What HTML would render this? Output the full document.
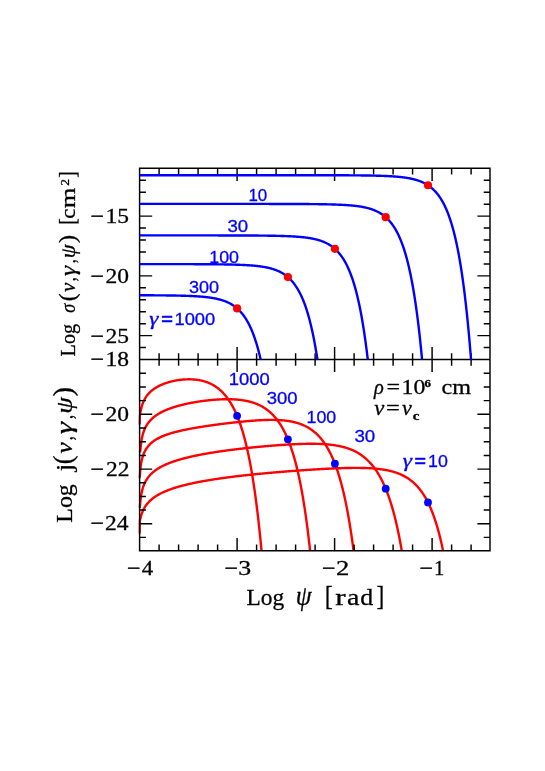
<!DOCTYPE html>
<html><head><meta charset="utf-8"><title>plot</title>
<style>html,body{margin:0;padding:0;background:#fff}body{width:545px;height:771px;position:relative;overflow:hidden;font-family:"Liberation Serif",serif}</style>
</head><body>
<svg width="545" height="771" viewBox="0 0 545 771" style="position:absolute;left:0;top:0">
<defs><clipPath id="ct"><rect x="138.4" y="168.3" width="352.8" height="191.2"/></clipPath>
<clipPath id="cb"><rect x="138.4" y="359.5" width="352.8" height="191.2"/></clipPath></defs>
<rect width="545" height="771" fill="#fff"/>
<g clip-path="url(#cb)" fill="none" stroke="#ff0000" stroke-width="2.4" stroke-linejoin="round">
<path d="M139.6,533.4 L139.75,521.24 L139.9,520.47 L140.1,519.51 L140.35,518.41 L140.6,517.4 L141.1,515.61 L141.6,514.06 L142.1,512.68 L142.6,511.45 L143.1,510.34 L143.6,509.32 L144.6,507.51 L145.6,505.95 L146.6,504.56 L147.6,503.33 L148.6,502.21 L149.1,501.68 L149.6,501.18 L150.1,500.7 L150.6,500.24 L151.1,499.8 L151.6,499.37 L152.1,498.96 L152.6,498.56 L153.1,498.17 L153.6,497.8 L154.1,497.43 L154.6,497.08 L155.1,496.74 L155.6,496.41 L156.1,496.09 L156.6,495.77 L157.1,495.47 L157.6,495.17 L158.1,494.88 L158.6,494.59 L159.1,494.32 L159.6,494.05 L160.1,493.78 L160.6,493.52 L161.1,493.27 L161.6,493.02 L162.1,492.78 L162.6,492.54 L163.1,492.31 L163.6,492.08 L164.1,491.85 L164.6,491.63 L165.1,491.42 L165.6,491.2 L166.1,491 L166.6,490.79 L167.1,490.59 L167.6,490.39 L168.1,490.2 L168.6,490 L169.1,489.82 L169.6,489.63 L170.1,489.45 L170.6,489.27 L171.1,489.09 L171.6,488.92 L172.1,488.74 L172.6,488.57 L173.1,488.41 L173.6,488.24 L174.1,488.08 L174.6,487.92 L175.1,487.76 L175.6,487.6 L176.1,487.45 L176.6,487.3 L177.1,487.15 L177.6,487 L178.1,486.85 L178.6,486.71 L179.1,486.57 L179.6,486.42 L180.1,486.28 L180.6,486.15 L181.1,486.01 L181.6,485.88 L182.1,485.74 L182.6,485.61 L183.1,485.48 L183.6,485.35 L184.1,485.22 L184.6,485.1 L185.1,484.97 L185.6,484.85 L186.1,484.73 L186.6,484.61 L187.1,484.49 L187.6,484.37 L188.1,484.25 L188.6,484.13 L189.1,484.02 L189.6,483.9 L190.1,483.79 L190.6,483.68 L191.1,483.57 L191.6,483.46 L192.1,483.35 L192.6,483.24 L193.1,483.14 L193.6,483.03 L194.1,482.93 L194.6,482.82 L195.1,482.72 L195.6,482.62 L196.1,482.51 L196.6,482.41 L197.1,482.31 L197.6,482.22 L198.1,482.12 L198.6,482.02 L199.1,481.92 L199.6,481.83 L200.1,481.73 L200.6,481.64 L201.1,481.55 L201.6,481.45 L202.1,481.36 L202.6,481.27 L203.1,481.18 L203.6,481.09 L204.1,481 L204.6,480.91 L205.1,480.82 L205.6,480.74 L206.1,480.65 L206.6,480.56 L207.1,480.48 L207.6,480.39 L208.1,480.31 L208.6,480.23 L209.1,480.14 L209.6,480.06 L210.1,479.98 L210.6,479.9 L211.1,479.82 L211.6,479.74 L212.1,479.66 L212.6,479.58 L213.1,479.5 L213.6,479.42 L214.1,479.35 L214.6,479.27 L215.1,479.19 L215.6,479.12 L216.1,479.04 L216.6,478.96 L217.1,478.89 L217.6,478.82 L218.1,478.74 L218.6,478.67 L219.1,478.6 L219.6,478.52 L220.1,478.45 L220.6,478.38 L221.1,478.31 L221.6,478.24 L222.1,478.17 L222.6,478.1 L223.1,478.03 L223.6,477.96 L224.1,477.89 L224.6,477.82 L225.1,477.75 L225.6,477.69 L226.1,477.62 L226.6,477.55 L227.1,477.49 L227.6,477.42 L228.1,477.36 L228.6,477.29 L229.1,477.23 L229.6,477.16 L230.1,477.1 L230.6,477.03 L231.1,476.97 L231.6,476.91 L232.1,476.84 L232.6,476.78 L233.1,476.72 L233.6,476.66 L234.1,476.59 L234.6,476.53 L235.1,476.47 L235.6,476.41 L236.1,476.35 L236.6,476.29 L237.1,476.23 L237.6,476.17 L238.1,476.11 L238.6,476.05 L239.1,476 L239.6,475.94 L240.1,475.88 L240.6,475.82 L241.1,475.76 L241.6,475.71 L242.1,475.65 L242.6,475.59 L243.1,475.54 L243.6,475.48 L244.1,475.42 L244.6,475.37 L245.1,475.31 L245.6,475.26 L246.1,475.2 L246.6,475.15 L247.1,475.09 L247.6,475.04 L248.1,474.99 L248.6,474.93 L249.1,474.88 L249.6,474.83 L250.1,474.77 L250.6,474.72 L251.1,474.67 L251.6,474.62 L252.1,474.56 L252.6,474.51 L253.1,474.46 L253.6,474.41 L254.1,474.36 L254.6,474.31 L255.1,474.26 L255.6,474.21 L256.1,474.16 L256.6,474.11 L257.1,474.06 L257.6,474.01 L258.1,473.96 L258.6,473.91 L259.1,473.86 L259.6,473.81 L260.1,473.76 L260.6,473.71 L261.1,473.66 L261.6,473.62 L262.1,473.57 L262.6,473.52 L263.1,473.47 L263.6,473.43 L264.1,473.38 L264.6,473.33 L265.1,473.29 L265.6,473.24 L266.1,473.19 L266.6,473.15 L267.1,473.1 L267.6,473.06 L268.1,473.01 L268.6,472.96 L269.1,472.92 L269.6,472.87 L270.1,472.83 L270.6,472.78 L271.1,472.74 L271.6,472.7 L272.1,472.65 L272.6,472.61 L273.1,472.56 L273.6,472.52 L274.1,472.48 L274.6,472.43 L275.1,472.39 L275.6,472.35 L276.1,472.3 L276.6,472.26 L277.1,472.22 L277.6,472.18 L278.1,472.13 L278.6,472.09 L279.1,472.05 L279.6,472.01 L280.1,471.97 L280.6,471.93 L281.1,471.88 L281.6,471.84 L282.1,471.8 L282.6,471.76 L283.1,471.72 L283.6,471.68 L284.1,471.64 L284.6,471.6 L285.1,471.56 L285.6,471.52 L286.1,471.48 L286.6,471.44 L287.1,471.4 L287.6,471.36 L288.1,471.32 L288.6,471.28 L289.1,471.25 L289.6,471.21 L290.1,471.17 L290.6,471.13 L291.1,471.09 L291.6,471.05 L292.1,471.02 L292.6,470.98 L293.1,470.94 L293.6,470.9 L294.1,470.87 L294.6,470.83 L295.1,470.79 L295.6,470.76 L296.1,470.72 L296.6,470.68 L297.1,470.65 L297.6,470.61 L298.1,470.57 L298.6,470.54 L299.1,470.5 L299.6,470.47 L300.1,470.43 L300.6,470.4 L301.1,470.36 L301.6,470.33 L302.1,470.29 L302.6,470.26 L303.1,470.22 L303.6,470.19 L304.1,470.15 L304.6,470.12 L305.1,470.09 L305.6,470.05 L306.1,470.02 L306.6,469.98 L307.1,469.95 L307.6,469.92 L308.1,469.89 L308.6,469.85 L309.1,469.82 L309.6,469.79 L310.1,469.76 L310.6,469.72 L311.1,469.69 L311.6,469.66 L312.1,469.63 L312.6,469.6 L313.1,469.57 L313.6,469.53 L314.1,469.5 L314.6,469.47 L315.1,469.44 L315.6,469.41 L316.1,469.38 L316.6,469.35 L317.1,469.32 L317.6,469.29 L318.1,469.26 L318.6,469.24 L319.1,469.21 L319.6,469.18 L320.1,469.15 L320.6,469.12 L321.1,469.09 L321.6,469.06 L322.1,469.04 L322.6,469.01 L323.1,468.98 L323.6,468.96 L324.1,468.93 L324.6,468.9 L325.1,468.88 L325.6,468.85 L326.1,468.82 L326.6,468.8 L327.1,468.77 L327.6,468.75 L328.1,468.72 L328.6,468.7 L329.1,468.67 L329.6,468.65 L330.1,468.63 L330.6,468.6 L331.1,468.58 L331.6,468.56 L332.1,468.53 L332.6,468.51 L333.1,468.49 L333.6,468.47 L334.1,468.44 L334.6,468.42 L335.1,468.4 L335.6,468.38 L336.1,468.36 L336.6,468.34 L337.1,468.32 L337.6,468.3 L338.1,468.28 L338.6,468.26 L339.1,468.25 L339.6,468.23 L340.1,468.21 L340.6,468.19 L341.1,468.18 L341.6,468.16 L342.1,468.14 L342.6,468.13 L343.1,468.11 L343.6,468.1 L344.1,468.09 L344.6,468.07 L345.1,468.06 L345.6,468.05 L346.1,468.03 L346.6,468.02 L347.1,468.01 L347.6,468 L348.1,467.99 L348.6,467.98 L349.1,467.97 L349.6,467.96 L350.1,467.95 L350.6,467.94 L351.1,467.94 L351.6,467.93 L352.1,467.92 L352.6,467.92 L353.1,467.91 L353.6,467.91 L354.1,467.91 L354.6,467.9 L355.1,467.9 L355.6,467.9 L356.1,467.9 L356.6,467.9 L357.1,467.9 L357.6,467.9 L358.1,467.9 L358.6,467.91 L359.1,467.91 L359.6,467.92 L360.1,467.92 L360.6,467.93 L361.1,467.94 L361.6,467.94 L362.1,467.95 L362.6,467.96 L363.1,467.98 L363.6,467.99 L364.1,468 L364.6,468.02 L365.1,468.03 L365.6,468.05 L366.1,468.06 L366.6,468.08 L367.1,468.1 L367.6,468.12 L368.1,468.15 L368.6,468.17 L369.1,468.19 L369.6,468.22 L370.1,468.25 L370.6,468.28 L371.1,468.31 L371.6,468.34 L372.1,468.37 L372.6,468.41 L373.1,468.44 L373.6,468.48 L374.1,468.52 L374.6,468.56 L375.1,468.6 L375.6,468.65 L376.1,468.69 L376.6,468.74 L377.1,468.79 L377.6,468.84 L378.1,468.9 L378.6,468.95 L379.1,469.01 L379.6,469.07 L380.1,469.13 L380.6,469.2 L381.1,469.26 L381.6,469.33 L382.1,469.4 L382.6,469.48 L383.1,469.55 L383.6,469.63 L384.1,469.71 L384.6,469.8 L385.1,469.88 L385.6,469.97 L386.1,470.07 L386.6,470.16 L387.1,470.26 L387.6,470.36 L388.1,470.46 L388.6,470.57 L389.1,470.68 L389.6,470.8 L390.1,470.92 L390.6,471.04 L391.1,471.16 L391.6,471.29 L392.1,471.42 L392.6,471.56 L393.1,471.7 L393.6,471.85 L394.1,472 L394.6,472.15 L395.1,472.31 L395.6,472.47 L396.1,472.64 L396.6,472.81 L397.1,472.99 L397.6,473.17 L398.1,473.36 L398.6,473.55 L399.1,473.75 L399.6,473.95 L400.1,474.16 L400.6,474.38 L401.1,474.6 L401.6,474.83 L402.1,475.06 L402.6,475.31 L403.1,475.55 L403.6,475.81 L404.1,476.07 L404.6,476.34 L405.1,476.62 L405.6,476.9 L406.1,477.19 L406.6,477.5 L407.1,477.81 L407.6,478.12 L408.1,478.45 L408.6,478.79 L409.1,479.13 L409.6,479.49 L410.1,479.85 L410.6,480.23 L411.1,480.61 L411.6,481.01 L412.1,481.41 L412.6,481.83 L413.1,482.26 L413.6,482.7 L414.1,483.16 L414.6,483.63 L415.1,484.11 L415.6,484.6 L416.1,485.11 L416.6,485.63 L417.1,486.16 L417.6,486.71 L418.1,487.28 L418.6,487.86 L419.1,488.46 L419.6,489.08 L420.1,489.71 L420.6,490.36 L421.1,491.03 L421.6,491.72 L422.1,492.42 L422.6,493.15 L423.1,493.9 L423.6,494.67 L424.1,495.46 L424.6,496.27 L425.1,497.11 L425.6,497.97 L426.1,498.85 L426.6,499.77 L427.1,500.7 L427.6,501.67 L428.1,502.66 L428.6,503.68 L429.1,504.73 L429.6,505.81 L430.1,506.92 L430.6,508.07 L431.1,509.25 L431.6,510.46 L432.1,511.71 L432.6,512.99 L433.1,514.32 L433.6,515.68 L434.1,517.08 L434.6,518.53 L435.1,520.01 L435.6,521.54 L436.1,523.12 L436.6,524.75 L437.1,526.42 L437.6,528.15 L438.1,529.92 L438.6,531.75 L439.1,533.64 L439.6,535.58 L440.1,537.58 L440.6,539.65 L441.1,541.77 L441.6,543.96 L442.1,546.22 L442.6,548.55 L443.1,550.95 L443.6,553.43 L444.1,555.98 L444.6,558.61 L445.1,561.33 L445.6,564.12 L446.1,567.01"/>
<path d="M139.6,507.8 L140.1,504.25 L140.35,501.42 L140.6,499.13 L141.1,495.57 L141.6,492.84 L142.1,490.62 L142.6,488.75 L143.1,487.14 L143.6,485.72 L144.6,483.31 L145.6,481.31 L146.6,479.6 L147.6,478.1 L148.6,476.78 L149.1,476.17 L149.6,475.58 L150.1,475.03 L150.6,474.5 L151.1,474 L151.6,473.51 L152.1,473.05 L152.6,472.6 L153.1,472.17 L153.6,471.75 L154.1,471.35 L154.6,470.96 L155.1,470.58 L155.6,470.22 L156.1,469.86 L156.6,469.52 L157.1,469.18 L157.6,468.86 L158.1,468.54 L158.6,468.24 L159.1,467.94 L159.6,467.64 L160.1,467.36 L160.6,467.08 L161.1,466.81 L161.6,466.54 L162.1,466.28 L162.6,466.03 L163.1,465.78 L163.6,465.54 L164.1,465.3 L164.6,465.06 L165.1,464.83 L165.6,464.61 L166.1,464.39 L166.6,464.17 L167.1,463.96 L167.6,463.75 L168.1,463.54 L168.6,463.34 L169.1,463.14 L169.6,462.95 L170.1,462.75 L170.6,462.56 L171.1,462.38 L171.6,462.2 L172.1,462.02 L172.6,461.84 L173.1,461.66 L173.6,461.49 L174.1,461.32 L174.6,461.15 L175.1,460.99 L175.6,460.82 L176.1,460.66 L176.6,460.51 L177.1,460.35 L177.6,460.2 L178.1,460.04 L178.6,459.89 L179.1,459.74 L179.6,459.6 L180.1,459.45 L180.6,459.31 L181.1,459.17 L181.6,459.03 L182.1,458.89 L182.6,458.75 L183.1,458.62 L183.6,458.49 L184.1,458.35 L184.6,458.22 L185.1,458.09 L185.6,457.97 L186.1,457.84 L186.6,457.72 L187.1,457.59 L187.6,457.47 L188.1,457.35 L188.6,457.23 L189.1,457.11 L189.6,456.99 L190.1,456.88 L190.6,456.76 L191.1,456.65 L191.6,456.53 L192.1,456.42 L192.6,456.31 L193.1,456.2 L193.6,456.09 L194.1,455.98 L194.6,455.88 L195.1,455.77 L195.6,455.67 L196.1,455.56 L196.6,455.46 L197.1,455.36 L197.6,455.26 L198.1,455.16 L198.6,455.06 L199.1,454.96 L199.6,454.86 L200.1,454.76 L200.6,454.67 L201.1,454.57 L201.6,454.48 L202.1,454.38 L202.6,454.29 L203.1,454.2 L203.6,454.1 L204.1,454.01 L204.6,453.92 L205.1,453.83 L205.6,453.74 L206.1,453.65 L206.6,453.57 L207.1,453.48 L207.6,453.39 L208.1,453.31 L208.6,453.22 L209.1,453.14 L209.6,453.05 L210.1,452.97 L210.6,452.89 L211.1,452.8 L211.6,452.72 L212.1,452.64 L212.6,452.56 L213.1,452.48 L213.6,452.4 L214.1,452.32 L214.6,452.24 L215.1,452.17 L215.6,452.09 L216.1,452.01 L216.6,451.93 L217.1,451.86 L217.6,451.78 L218.1,451.71 L218.6,451.63 L219.1,451.56 L219.6,451.49 L220.1,451.41 L220.6,451.34 L221.1,451.27 L221.6,451.2 L222.1,451.12 L222.6,451.05 L223.1,450.98 L223.6,450.91 L224.1,450.84 L224.6,450.77 L225.1,450.7 L225.6,450.64 L226.1,450.57 L226.6,450.5 L227.1,450.43 L227.6,450.37 L228.1,450.3 L228.6,450.23 L229.1,450.17 L229.6,450.1 L230.1,450.04 L230.6,449.97 L231.1,449.91 L231.6,449.85 L232.1,449.78 L232.6,449.72 L233.1,449.66 L233.6,449.59 L234.1,449.53 L234.6,449.47 L235.1,449.41 L235.6,449.35 L236.1,449.29 L236.6,449.23 L237.1,449.17 L237.6,449.11 L238.1,449.05 L238.6,448.99 L239.1,448.93 L239.6,448.87 L240.1,448.81 L240.6,448.75 L241.1,448.7 L241.6,448.64 L242.1,448.58 L242.6,448.52 L243.1,448.47 L243.6,448.41 L244.1,448.36 L244.6,448.3 L245.1,448.24 L245.6,448.19 L246.1,448.14 L246.6,448.08 L247.1,448.03 L247.6,447.97 L248.1,447.92 L248.6,447.87 L249.1,447.81 L249.6,447.76 L250.1,447.71 L250.6,447.66 L251.1,447.6 L251.6,447.55 L252.1,447.5 L252.6,447.45 L253.1,447.4 L253.6,447.35 L254.1,447.3 L254.6,447.25 L255.1,447.2 L255.6,447.15 L256.1,447.1 L256.6,447.05 L257.1,447 L257.6,446.96 L258.1,446.91 L258.6,446.86 L259.1,446.81 L259.6,446.76 L260.1,446.72 L260.6,446.67 L261.1,446.62 L261.6,446.58 L262.1,446.53 L262.6,446.49 L263.1,446.44 L263.6,446.4 L264.1,446.35 L264.6,446.31 L265.1,446.26 L265.6,446.22 L266.1,446.17 L266.6,446.13 L267.1,446.09 L267.6,446.05 L268.1,446 L268.6,445.96 L269.1,445.92 L269.6,445.88 L270.1,445.83 L270.6,445.79 L271.1,445.75 L271.6,445.71 L272.1,445.67 L272.6,445.63 L273.1,445.59 L273.6,445.55 L274.1,445.51 L274.6,445.47 L275.1,445.44 L275.6,445.4 L276.1,445.36 L276.6,445.32 L277.1,445.28 L277.6,445.25 L278.1,445.21 L278.6,445.17 L279.1,445.14 L279.6,445.1 L280.1,445.07 L280.6,445.03 L281.1,445 L281.6,444.96 L282.1,444.93 L282.6,444.9 L283.1,444.86 L283.6,444.83 L284.1,444.8 L284.6,444.76 L285.1,444.73 L285.6,444.7 L286.1,444.67 L286.6,444.64 L287.1,444.61 L287.6,444.58 L288.1,444.55 L288.6,444.52 L289.1,444.49 L289.6,444.46 L290.1,444.44 L290.6,444.41 L291.1,444.38 L291.6,444.36 L292.1,444.33 L292.6,444.3 L293.1,444.28 L293.6,444.25 L294.1,444.23 L294.6,444.21 L295.1,444.18 L295.6,444.16 L296.1,444.14 L296.6,444.12 L297.1,444.1 L297.6,444.08 L298.1,444.06 L298.6,444.04 L299.1,444.02 L299.6,444 L300.1,443.98 L300.6,443.96 L301.1,443.95 L301.6,443.93 L302.1,443.92 L302.6,443.9 L303.1,443.89 L303.6,443.88 L304.1,443.86 L304.6,443.85 L305.1,443.84 L305.6,443.83 L306.1,443.82 L306.6,443.81 L307.1,443.81 L307.6,443.8 L308.1,443.79 L308.6,443.79 L309.1,443.78 L309.6,443.78 L310.1,443.78 L310.6,443.77 L311.1,443.77 L311.6,443.77 L312.1,443.77 L312.6,443.78 L313.1,443.78 L313.6,443.78 L314.1,443.79 L314.6,443.79 L315.1,443.8 L315.6,443.81 L316.1,443.82 L316.6,443.83 L317.1,443.84 L317.6,443.85 L318.1,443.87 L318.6,443.88 L319.1,443.9 L319.6,443.92 L320.1,443.94 L320.6,443.96 L321.1,443.98 L321.6,444 L322.1,444.03 L322.6,444.05 L323.1,444.08 L323.6,444.11 L324.1,444.14 L324.6,444.17 L325.1,444.21 L325.6,444.25 L326.1,444.28 L326.6,444.32 L327.1,444.36 L327.6,444.41 L328.1,444.45 L328.6,444.5 L329.1,444.55 L329.6,444.6 L330.1,444.65 L330.6,444.71 L331.1,444.77 L331.6,444.83 L332.1,444.89 L332.6,444.95 L333.1,445.02 L333.6,445.09 L334.1,445.16 L334.6,445.24 L335.1,445.31 L335.6,445.39 L336.1,445.48 L336.6,445.56 L337.1,445.65 L337.6,445.74 L338.1,445.83 L338.6,445.93 L339.1,446.03 L339.6,446.13 L340.1,446.24 L340.6,446.35 L341.1,446.46 L341.6,446.58 L342.1,446.7 L342.6,446.82 L343.1,446.95 L343.6,447.08 L344.1,447.22 L344.6,447.36 L345.1,447.5 L345.6,447.65 L346.1,447.8 L346.6,447.96 L347.1,448.12 L347.6,448.28 L348.1,448.45 L348.6,448.63 L349.1,448.81 L349.6,448.99 L350.1,449.18 L350.6,449.38 L351.1,449.58 L351.6,449.79 L352.1,450 L352.6,450.22 L353.1,450.44 L353.6,450.67 L354.1,450.91 L354.6,451.15 L355.1,451.4 L355.6,451.65 L356.1,451.91 L356.6,452.18 L357.1,452.46 L357.6,452.74 L358.1,453.03 L358.6,453.33 L359.1,453.64 L359.6,453.95 L360.1,454.28 L360.6,454.61 L361.1,454.95 L361.6,455.3 L362.1,455.65 L362.6,456.02 L363.1,456.4 L363.6,456.78 L364.1,457.18 L364.6,457.59 L365.1,458 L365.6,458.43 L366.1,458.87 L366.6,459.32 L367.1,459.78 L367.6,460.25 L368.1,460.74 L368.6,461.24 L369.1,461.75 L369.6,462.27 L370.1,462.81 L370.6,463.36 L371.1,463.92 L371.6,464.5 L372.1,465.09 L372.6,465.7 L373.1,466.33 L373.6,466.97 L374.1,467.63 L374.6,468.3 L375.1,468.99 L375.6,469.7 L376.1,470.43 L376.6,471.17 L377.1,471.94 L377.6,472.72 L378.1,473.53 L378.6,474.36 L379.1,475.2 L379.6,476.07 L380.1,476.97 L380.6,477.88 L381.1,478.82 L381.6,479.78 L382.1,480.77 L382.6,481.79 L383.1,482.83 L383.6,483.9 L384.1,485 L384.6,486.12 L385.1,487.28 L385.6,488.47 L386.1,489.69 L386.6,490.94 L387.1,492.22 L387.6,493.54 L388.1,494.9 L388.6,496.29 L389.1,497.72 L389.6,499.19 L390.1,500.7 L390.6,502.25 L391.1,503.84 L391.6,505.47 L392.1,507.16 L392.6,508.88 L393.1,510.66 L393.6,512.49 L394.1,514.36 L394.6,516.29 L395.1,518.27 L395.6,520.31 L396.1,522.41 L396.6,524.57 L397.1,526.78 L397.6,529.07 L398.1,531.41 L398.6,533.83 L399.1,536.31 L399.6,538.87 L400.1,541.5 L400.6,544.21 L401.1,546.99 L401.6,549.86 L402.1,552.82 L402.6,555.86 L403.1,558.99 L403.6,562.21 L404.1,565.53 L404.6,568.95"/>
<path d="M139.6,477.8 L139.9,474.87 L140.1,472.05 L140.35,469.28 L140.6,467.04 L141.1,463.56 L141.6,460.9 L142.1,458.75 L142.6,456.95 L143.1,455.4 L143.6,454.04 L144.6,451.75 L145.6,449.86 L146.6,448.26 L147.6,446.88 L148.6,445.66 L149.1,445.1 L149.6,444.57 L150.1,444.07 L150.6,443.59 L151.1,443.14 L151.6,442.7 L152.1,442.29 L152.6,441.89 L153.1,441.5 L153.6,441.14 L154.1,440.78 L154.6,440.44 L155.1,440.11 L155.6,439.79 L156.1,439.49 L156.6,439.19 L157.1,438.9 L157.6,438.62 L158.1,438.35 L158.6,438.09 L159.1,437.83 L159.6,437.58 L160.1,437.34 L160.6,437.11 L161.1,436.88 L161.6,436.65 L162.1,436.44 L162.6,436.22 L163.1,436.02 L163.6,435.81 L164.1,435.61 L164.6,435.42 L165.1,435.23 L165.6,435.04 L166.1,434.86 L166.6,434.68 L167.1,434.51 L167.6,434.34 L168.1,434.17 L168.6,434 L169.1,433.84 L169.6,433.68 L170.1,433.52 L170.6,433.37 L171.1,433.22 L171.6,433.07 L172.1,432.92 L172.6,432.78 L173.1,432.64 L173.6,432.5 L174.1,432.36 L174.6,432.23 L175.1,432.1 L175.6,431.96 L176.1,431.83 L176.6,431.71 L177.1,431.58 L177.6,431.46 L178.1,431.34 L178.6,431.21 L179.1,431.1 L179.6,430.98 L180.1,430.86 L180.6,430.75 L181.1,430.63 L181.6,430.52 L182.1,430.41 L182.6,430.3 L183.1,430.19 L183.6,430.08 L184.1,429.98 L184.6,429.87 L185.1,429.77 L185.6,429.67 L186.1,429.57 L186.6,429.47 L187.1,429.37 L187.6,429.27 L188.1,429.17 L188.6,429.07 L189.1,428.98 L189.6,428.88 L190.1,428.79 L190.6,428.69 L191.1,428.6 L191.6,428.51 L192.1,428.42 L192.6,428.33 L193.1,428.24 L193.6,428.15 L194.1,428.06 L194.6,427.97 L195.1,427.89 L195.6,427.8 L196.1,427.72 L196.6,427.63 L197.1,427.55 L197.6,427.46 L198.1,427.38 L198.6,427.3 L199.1,427.22 L199.6,427.14 L200.1,427.05 L200.6,426.97 L201.1,426.89 L201.6,426.82 L202.1,426.74 L202.6,426.66 L203.1,426.58 L203.6,426.5 L204.1,426.43 L204.6,426.35 L205.1,426.27 L205.6,426.2 L206.1,426.12 L206.6,426.05 L207.1,425.97 L207.6,425.9 L208.1,425.83 L208.6,425.75 L209.1,425.68 L209.6,425.61 L210.1,425.54 L210.6,425.47 L211.1,425.4 L211.6,425.33 L212.1,425.26 L212.6,425.19 L213.1,425.12 L213.6,425.05 L214.1,424.98 L214.6,424.91 L215.1,424.84 L215.6,424.77 L216.1,424.71 L216.6,424.64 L217.1,424.57 L217.6,424.51 L218.1,424.44 L218.6,424.37 L219.1,424.31 L219.6,424.24 L220.1,424.18 L220.6,424.11 L221.1,424.05 L221.6,423.99 L222.1,423.92 L222.6,423.86 L223.1,423.8 L223.6,423.73 L224.1,423.67 L224.6,423.61 L225.1,423.55 L225.6,423.49 L226.1,423.42 L226.6,423.36 L227.1,423.3 L227.6,423.24 L228.1,423.18 L228.6,423.12 L229.1,423.06 L229.6,423.01 L230.1,422.95 L230.6,422.89 L231.1,422.83 L231.6,422.77 L232.1,422.72 L232.6,422.66 L233.1,422.6 L233.6,422.55 L234.1,422.49 L234.6,422.44 L235.1,422.38 L235.6,422.33 L236.1,422.27 L236.6,422.22 L237.1,422.16 L237.6,422.11 L238.1,422.06 L238.6,422.01 L239.1,421.95 L239.6,421.9 L240.1,421.85 L240.6,421.8 L241.1,421.75 L241.6,421.7 L242.1,421.65 L242.6,421.6 L243.1,421.55 L243.6,421.51 L244.1,421.46 L244.6,421.41 L245.1,421.36 L245.6,421.32 L246.1,421.27 L246.6,421.23 L247.1,421.18 L247.6,421.14 L248.1,421.09 L248.6,421.05 L249.1,421.01 L249.6,420.97 L250.1,420.92 L250.6,420.88 L251.1,420.84 L251.6,420.8 L252.1,420.76 L252.6,420.73 L253.1,420.69 L253.6,420.65 L254.1,420.61 L254.6,420.58 L255.1,420.54 L255.6,420.51 L256.1,420.48 L256.6,420.44 L257.1,420.41 L257.6,420.38 L258.1,420.35 L258.6,420.32 L259.1,420.29 L259.6,420.26 L260.1,420.24 L260.6,420.21 L261.1,420.18 L261.6,420.16 L262.1,420.14 L262.6,420.11 L263.1,420.09 L263.6,420.07 L264.1,420.05 L264.6,420.03 L265.1,420.02 L265.6,420 L266.1,419.99 L266.6,419.97 L267.1,419.96 L267.6,419.95 L268.1,419.94 L268.6,419.93 L269.1,419.92 L269.6,419.91 L270.1,419.91 L270.6,419.91 L271.1,419.9 L271.6,419.9 L272.1,419.9 L272.6,419.91 L273.1,419.91 L273.6,419.92 L274.1,419.92 L274.6,419.93 L275.1,419.94 L275.6,419.95 L276.1,419.97 L276.6,419.98 L277.1,420 L277.6,420.02 L278.1,420.04 L278.6,420.07 L279.1,420.09 L279.6,420.12 L280.1,420.15 L280.6,420.18 L281.1,420.22 L281.6,420.26 L282.1,420.29 L282.6,420.34 L283.1,420.38 L283.6,420.43 L284.1,420.48 L284.6,420.53 L285.1,420.58 L285.6,420.64 L286.1,420.7 L286.6,420.76 L287.1,420.83 L287.6,420.9 L288.1,420.97 L288.6,421.05 L289.1,421.13 L289.6,421.21 L290.1,421.3 L290.6,421.38 L291.1,421.48 L291.6,421.57 L292.1,421.68 L292.6,421.78 L293.1,421.89 L293.6,422 L294.1,422.12 L294.6,422.24 L295.1,422.36 L295.6,422.49 L296.1,422.63 L296.6,422.77 L297.1,422.91 L297.6,423.06 L298.1,423.22 L298.6,423.37 L299.1,423.54 L299.6,423.71 L300.1,423.88 L300.6,424.07 L301.1,424.25 L301.6,424.45 L302.1,424.65 L302.6,424.85 L303.1,425.06 L303.6,425.28 L304.1,425.51 L304.6,425.74 L305.1,425.98 L305.6,426.23 L306.1,426.48 L306.6,426.74 L307.1,427.01 L307.6,427.29 L308.1,427.58 L308.6,427.87 L309.1,428.18 L309.6,428.49 L310.1,428.81 L310.6,429.14 L311.1,429.48 L311.6,429.83 L312.1,430.19 L312.6,430.56 L313.1,430.95 L313.6,431.34 L314.1,431.74 L314.6,432.16 L315.1,432.58 L315.6,433.02 L316.1,433.47 L316.6,433.94 L317.1,434.42 L317.6,434.91 L318.1,435.41 L318.6,435.93 L319.1,436.46 L319.6,437.01 L320.1,437.57 L320.6,438.15 L321.1,438.75 L321.6,439.36 L322.1,439.99 L322.6,440.63 L323.1,441.3 L323.6,441.98 L324.1,442.68 L324.6,443.4 L325.1,444.15 L325.6,444.91 L326.1,445.69 L326.6,446.5 L327.1,447.32 L327.6,448.17 L328.1,449.05 L328.6,449.95 L329.1,450.87 L329.6,451.82 L330.1,452.8 L330.6,453.8 L331.1,454.83 L331.6,455.9 L332.1,456.99 L332.6,458.11 L333.1,459.26 L333.6,460.45 L334.1,461.67 L334.6,462.92 L335.1,464.21 L335.6,465.54 L336.1,466.9 L336.6,468.31 L337.1,469.75 L337.6,471.24 L338.1,472.76 L338.6,474.34 L339.1,475.95 L339.6,477.62 L340.1,479.33 L340.6,481.09 L341.1,482.91 L341.6,484.77 L342.1,486.7 L342.6,488.67 L343.1,490.71 L343.6,492.81 L344.1,494.96 L344.6,497.19 L345.1,499.47 L345.6,501.83 L346.1,504.26 L346.6,506.76 L347.1,509.33 L347.6,511.98 L348.1,514.72 L348.6,517.53 L349.1,520.43 L349.6,523.42 L350.1,526.5 L350.6,529.67 L351.1,532.95 L351.6,536.32 L352.1,539.79 L352.6,543.38 L353.1,547.07 L353.6,550.88 L354.1,554.81 L354.6,558.86 L355.1,563.04 L355.6,567.34"/>
<path d="M139.6,452.1 L140.35,450.72 L140.6,447.57 L141.1,443.03 L141.6,439.76 L142.1,437.2 L142.6,435.11 L143.1,433.33 L143.6,431.78 L144.6,429.2 L145.6,427.09 L146.6,425.3 L147.6,423.75 L148.6,422.39 L149.1,421.76 L149.6,421.17 L150.1,420.6 L150.6,420.07 L151.1,419.55 L151.6,419.06 L152.1,418.59 L152.6,418.14 L153.1,417.7 L153.6,417.29 L154.1,416.88 L154.6,416.49 L155.1,416.12 L155.6,415.75 L156.1,415.4 L156.6,415.06 L157.1,414.73 L157.6,414.4 L158.1,414.09 L158.6,413.79 L159.1,413.49 L159.6,413.2 L160.1,412.92 L160.6,412.65 L161.1,412.38 L161.6,412.12 L162.1,411.87 L162.6,411.62 L163.1,411.38 L163.6,411.14 L164.1,410.91 L164.6,410.68 L165.1,410.46 L165.6,410.24 L166.1,410.02 L166.6,409.82 L167.1,409.61 L167.6,409.41 L168.1,409.21 L168.6,409.02 L169.1,408.83 L169.6,408.64 L170.1,408.46 L170.6,408.28 L171.1,408.1 L171.6,407.93 L172.1,407.76 L172.6,407.59 L173.1,407.42 L173.6,407.26 L174.1,407.1 L174.6,406.95 L175.1,406.79 L175.6,406.64 L176.1,406.49 L176.6,406.34 L177.1,406.2 L177.6,406.05 L178.1,405.91 L178.6,405.77 L179.1,405.64 L179.6,405.5 L180.1,405.37 L180.6,405.24 L181.1,405.11 L181.6,404.99 L182.1,404.86 L182.6,404.74 L183.1,404.62 L183.6,404.5 L184.1,404.38 L184.6,404.26 L185.1,404.15 L185.6,404.03 L186.1,403.92 L186.6,403.81 L187.1,403.7 L187.6,403.6 L188.1,403.49 L188.6,403.39 L189.1,403.29 L189.6,403.18 L190.1,403.09 L190.6,402.99 L191.1,402.89 L191.6,402.79 L192.1,402.7 L192.6,402.61 L193.1,402.52 L193.6,402.43 L194.1,402.34 L194.6,402.25 L195.1,402.16 L195.6,402.08 L196.1,401.99 L196.6,401.91 L197.1,401.83 L197.6,401.75 L198.1,401.67 L198.6,401.59 L199.1,401.52 L199.6,401.44 L200.1,401.37 L200.6,401.3 L201.1,401.22 L201.6,401.15 L202.1,401.08 L202.6,401.02 L203.1,400.95 L203.6,400.88 L204.1,400.82 L204.6,400.76 L205.1,400.69 L205.6,400.63 L206.1,400.57 L206.6,400.51 L207.1,400.46 L207.6,400.4 L208.1,400.34 L208.6,400.29 L209.1,400.24 L209.6,400.19 L210.1,400.14 L210.6,400.09 L211.1,400.04 L211.6,399.99 L212.1,399.95 L212.6,399.9 L213.1,399.86 L213.6,399.82 L214.1,399.78 L214.6,399.74 L215.1,399.7 L215.6,399.66 L216.1,399.63 L216.6,399.6 L217.1,399.56 L217.6,399.53 L218.1,399.5 L218.6,399.47 L219.1,399.45 L219.6,399.42 L220.1,399.4 L220.6,399.37 L221.1,399.35 L221.6,399.33 L222.1,399.32 L222.6,399.3 L223.1,399.28 L223.6,399.27 L224.1,399.26 L224.6,399.25 L225.1,399.24 L225.6,399.23 L226.1,399.23 L226.6,399.22 L227.1,399.22 L227.6,399.22 L228.1,399.22 L228.6,399.23 L229.1,399.23 L229.6,399.24 L230.1,399.25 L230.6,399.26 L231.1,399.28 L231.6,399.29 L232.1,399.31 L232.6,399.33 L233.1,399.35 L233.6,399.37 L234.1,399.4 L234.6,399.43 L235.1,399.46 L235.6,399.49 L236.1,399.53 L236.6,399.57 L237.1,399.61 L237.6,399.65 L238.1,399.7 L238.6,399.75 L239.1,399.8 L239.6,399.85 L240.1,399.91 L240.6,399.97 L241.1,400.04 L241.6,400.1 L242.1,400.17 L242.6,400.24 L243.1,400.32 L243.6,400.4 L244.1,400.48 L244.6,400.57 L245.1,400.66 L245.6,400.75 L246.1,400.85 L246.6,400.95 L247.1,401.05 L247.6,401.16 L248.1,401.27 L248.6,401.39 L249.1,401.51 L249.6,401.64 L250.1,401.77 L250.6,401.9 L251.1,402.04 L251.6,402.19 L252.1,402.33 L252.6,402.49 L253.1,402.65 L253.6,402.81 L254.1,402.98 L254.6,403.16 L255.1,403.34 L255.6,403.53 L256.1,403.72 L256.6,403.92 L257.1,404.12 L257.6,404.33 L258.1,404.55 L258.6,404.78 L259.1,405.01 L259.6,405.25 L260.1,405.49 L260.6,405.74 L261.1,406 L261.6,406.27 L262.1,406.55 L262.6,406.83 L263.1,407.13 L263.6,407.43 L264.1,407.74 L264.6,408.06 L265.1,408.39 L265.6,408.73 L266.1,409.08 L266.6,409.43 L267.1,409.8 L267.6,410.18 L268.1,410.57 L268.6,410.97 L269.1,411.39 L269.6,411.81 L270.1,412.25 L270.6,412.7 L271.1,413.16 L271.6,413.63 L272.1,414.12 L272.6,414.62 L273.1,415.14 L273.6,415.67 L274.1,416.22 L274.6,416.78 L275.1,417.36 L275.6,417.95 L276.1,418.56 L276.6,419.19 L277.1,419.84 L277.6,420.5 L278.1,421.19 L278.6,421.89 L279.1,422.61 L279.6,423.36 L280.1,424.12 L280.6,424.91 L281.1,425.72 L281.6,426.55 L282.1,427.4 L282.6,428.28 L283.1,429.19 L283.6,430.12 L284.1,431.08 L284.6,432.06 L285.1,433.08 L285.6,434.12 L286.1,435.19 L286.6,436.3 L287.1,437.43 L287.6,438.6 L288.1,439.81 L288.6,441.04 L289.1,442.32 L289.6,443.63 L290.1,444.98 L290.6,446.37 L291.1,447.8 L291.6,449.27 L292.1,450.79 L292.6,452.35 L293.1,453.96 L293.6,455.62 L294.1,457.32 L294.6,459.08 L295.1,460.89 L295.6,462.75 L296.1,464.67 L296.6,466.65 L297.1,468.68 L297.6,470.78 L298.1,472.94 L298.6,475.17 L299.1,477.47 L299.6,479.83 L300.1,482.27 L300.6,484.79 L301.1,487.38 L301.6,490.05 L302.1,492.81 L302.6,495.65 L303.1,498.57 L303.6,501.59 L304.1,504.71 L304.6,507.92 L305.1,511.23 L305.6,514.65 L306.1,518.17 L306.6,521.81 L307.1,525.56 L307.6,529.43 L308.1,533.42 L308.6,537.54 L309.1,541.8 L309.6,546.19 L310.1,550.72 L310.6,555.39 L311.1,560.22 L311.6,565.2 L312.1,570.34"/>
<path d="M139.6,424.4 L139.75,416.89 L139.9,415.68 L140.1,414.24 L140.35,412.66 L140.6,411.27 L141.1,408.91 L141.6,406.94 L142.1,405.26 L142.6,403.8 L143.1,402.5 L143.6,401.33 L144.6,399.31 L145.6,397.6 L146.6,396.11 L147.6,394.8 L148.6,393.63 L149.1,393.1 L149.6,392.58 L150.1,392.09 L150.6,391.63 L151.1,391.18 L151.6,390.75 L152.1,390.34 L152.6,389.94 L153.1,389.56 L153.6,389.2 L154.1,388.84 L154.6,388.5 L155.1,388.17 L155.6,387.86 L156.1,387.55 L156.6,387.25 L157.1,386.97 L157.6,386.69 L158.1,386.42 L158.6,386.15 L159.1,385.9 L159.6,385.65 L160.1,385.41 L160.6,385.18 L161.1,384.96 L161.6,384.74 L162.1,384.52 L162.6,384.32 L163.1,384.11 L163.6,383.92 L164.1,383.73 L164.6,383.54 L165.1,383.36 L165.6,383.19 L166.1,383.02 L166.6,382.85 L167.1,382.69 L167.6,382.53 L168.1,382.38 L168.6,382.23 L169.1,382.09 L169.6,381.95 L170.1,381.81 L170.6,381.68 L171.1,381.55 L171.6,381.43 L172.1,381.31 L172.6,381.19 L173.1,381.08 L173.6,380.97 L174.1,380.87 L174.6,380.76 L175.1,380.67 L175.6,380.57 L176.1,380.48 L176.6,380.39 L177.1,380.31 L177.6,380.23 L178.1,380.15 L178.6,380.08 L179.1,380.01 L179.6,379.94 L180.1,379.87 L180.6,379.81 L181.1,379.76 L181.6,379.7 L182.1,379.65 L182.6,379.61 L183.1,379.56 L183.6,379.52 L184.1,379.48 L184.6,379.45 L185.1,379.42 L185.6,379.4 L186.1,379.37 L186.6,379.35 L187.1,379.34 L187.6,379.33 L188.1,379.32 L188.6,379.31 L189.1,379.31 L189.6,379.32 L190.1,379.32 L190.6,379.33 L191.1,379.35 L191.6,379.37 L192.1,379.39 L192.6,379.41 L193.1,379.44 L193.6,379.48 L194.1,379.52 L194.6,379.56 L195.1,379.61 L195.6,379.66 L196.1,379.72 L196.6,379.78 L197.1,379.84 L197.6,379.91 L198.1,379.99 L198.6,380.07 L199.1,380.16 L199.6,380.25 L200.1,380.34 L200.6,380.44 L201.1,380.55 L201.6,380.66 L202.1,380.78 L202.6,380.9 L203.1,381.03 L203.6,381.16 L204.1,381.31 L204.6,381.45 L205.1,381.61 L205.6,381.77 L206.1,381.93 L206.6,382.11 L207.1,382.29 L207.6,382.47 L208.1,382.67 L208.6,382.87 L209.1,383.08 L209.6,383.3 L210.1,383.52 L210.6,383.76 L211.1,384 L211.6,384.25 L212.1,384.51 L212.6,384.78 L213.1,385.05 L213.6,385.34 L214.1,385.64 L214.6,385.94 L215.1,386.26 L215.6,386.59 L216.1,386.92 L216.6,387.27 L217.1,387.63 L217.6,388 L218.1,388.39 L218.6,388.78 L219.1,389.19 L219.6,389.61 L220.1,390.04 L220.6,390.49 L221.1,390.95 L221.6,391.42 L222.1,391.91 L222.6,392.41 L223.1,392.93 L223.6,393.47 L224.1,394.02 L224.6,394.59 L225.1,395.17 L225.6,395.77 L226.1,396.39 L226.6,397.03 L227.1,397.69 L227.6,398.37 L228.1,399.07 L228.6,399.79 L229.1,400.53 L229.6,401.29 L230.1,402.07 L230.6,402.88 L231.1,403.71 L231.6,404.57 L232.1,405.46 L232.6,406.36 L233.1,407.3 L233.6,408.26 L234.1,409.26 L234.6,410.28 L235.1,411.33 L235.6,412.42 L236.1,413.53 L236.6,414.68 L237.1,415.87 L237.6,417.09 L238.1,418.35 L238.6,419.64 L239.1,420.97 L239.6,422.35 L240.1,423.76 L240.6,425.22 L241.1,426.72 L241.6,428.27 L242.1,429.86 L242.6,431.5 L243.1,433.19 L243.6,434.94 L244.1,436.73 L244.6,438.59 L245.1,440.5 L245.6,442.46 L246.1,444.49 L246.6,446.58 L247.1,448.73 L247.6,450.95 L248.1,453.24 L248.6,455.6 L249.1,458.04 L249.6,460.55 L250.1,463.14 L250.6,465.81 L251.1,468.56 L251.6,471.4 L252.1,474.33 L252.6,477.35 L253.1,480.46 L253.6,483.68 L254.1,487 L254.6,490.42 L255.1,493.95 L255.6,497.59 L256.1,501.35 L256.6,505.23 L257.1,509.24 L257.6,513.37 L258.1,517.64 L258.6,522.05 L259.1,526.59 L259.6,531.29 L260.1,536.14 L260.6,541.14 L261.1,546.31 L261.6,551.64 L262.1,557.16 L262.6,562.85 L263.1,568.73"/>
</g>
<path d="M159.1,168.3 L159.1,174.6 M159.1,353.2 L159.1,365.8 M159.1,544.4 L159.1,550.7 M178.6,168.3 L178.6,174.6 M178.6,353.2 L178.6,365.8 M178.6,544.4 L178.6,550.7 M198.1,168.3 L198.1,174.6 M198.1,353.2 L198.1,365.8 M198.1,544.4 L198.1,550.7 M217.6,168.3 L217.6,174.6 M217.6,353.2 L217.6,365.8 M217.6,544.4 L217.6,550.7 M237.1,168.3 L237.1,180.9 M237.1,346.9 L237.1,372.1 M237.1,538.1 L237.1,550.7 M256.6,168.3 L256.6,174.6 M256.6,353.2 L256.6,365.8 M256.6,544.4 L256.6,550.7 M276.1,168.3 L276.1,174.6 M276.1,353.2 L276.1,365.8 M276.1,544.4 L276.1,550.7 M295.6,168.3 L295.6,174.6 M295.6,353.2 L295.6,365.8 M295.6,544.4 L295.6,550.7 M315.1,168.3 L315.1,174.6 M315.1,353.2 L315.1,365.8 M315.1,544.4 L315.1,550.7 M334.6,168.3 L334.6,180.9 M334.6,346.9 L334.6,372.1 M334.6,538.1 L334.6,550.7 M354.1,168.3 L354.1,174.6 M354.1,353.2 L354.1,365.8 M354.1,544.4 L354.1,550.7 M373.6,168.3 L373.6,174.6 M373.6,353.2 L373.6,365.8 M373.6,544.4 L373.6,550.7 M393.1,168.3 L393.1,174.6 M393.1,353.2 L393.1,365.8 M393.1,544.4 L393.1,550.7 M412.6,168.3 L412.6,174.6 M412.6,353.2 L412.6,365.8 M412.6,544.4 L412.6,550.7 M432.1,168.3 L432.1,180.9 M432.1,346.9 L432.1,372.1 M432.1,538.1 L432.1,550.7 M451.6,168.3 L451.6,174.6 M451.6,353.2 L451.6,365.8 M451.6,544.4 L451.6,550.7 M471.1,168.3 L471.1,174.6 M471.1,353.2 L471.1,365.8 M471.1,544.4 L471.1,550.7 M139.6,347.55 L145.9,347.55 M483.7,347.55 L490,347.55 M139.6,335.6 L152.2,335.6 M477.4,335.6 L490,335.6 M139.6,323.65 L145.9,323.65 M483.7,323.65 L490,323.65 M139.6,311.7 L145.9,311.7 M483.7,311.7 L490,311.7 M139.6,299.75 L145.9,299.75 M483.7,299.75 L490,299.75 M139.6,287.8 L145.9,287.8 M483.7,287.8 L490,287.8 M139.6,275.85 L152.2,275.85 M477.4,275.85 L490,275.85 M139.6,263.9 L145.9,263.9 M483.7,263.9 L490,263.9 M139.6,251.95 L145.9,251.95 M483.7,251.95 L490,251.95 M139.6,240 L145.9,240 M483.7,240 L490,240 M139.6,228.05 L145.9,228.05 M483.7,228.05 L490,228.05 M139.6,216.1 L152.2,216.1 M477.4,216.1 L490,216.1 M139.6,204.15 L145.9,204.15 M483.7,204.15 L490,204.15 M139.6,192.2 L145.9,192.2 M483.7,192.2 L490,192.2 M139.6,180.25 L145.9,180.25 M483.7,180.25 L490,180.25 M139.6,373.2 L145.9,373.2 M483.7,373.2 L490,373.2 M139.6,386.9 L145.9,386.9 M483.7,386.9 L490,386.9 M139.6,400.6 L145.9,400.6 M483.7,400.6 L490,400.6 M139.6,414.3 L152.2,414.3 M477.4,414.3 L490,414.3 M139.6,428 L145.9,428 M483.7,428 L490,428 M139.6,441.71 L145.9,441.71 M483.7,441.71 L490,441.71 M139.6,455.41 L145.9,455.41 M483.7,455.41 L490,455.41 M139.6,469.11 L152.2,469.11 M477.4,469.11 L490,469.11 M139.6,482.76 L145.9,482.76 M483.7,482.76 L490,482.76 M139.6,496.42 L145.9,496.42 M483.7,496.42 L490,496.42 M139.6,510.08 L145.9,510.08 M483.7,510.08 L490,510.08 M139.6,523.74 L152.2,523.74 M477.4,523.74 L490,523.74 M139.6,537.39 L145.9,537.39 M483.7,537.39 L490,537.39" stroke="#000" stroke-width="1.45" fill="none"/>
<path d="M139.6,168.3 H490 V550.7 H139.6 Z M139.6,359.5 H490" stroke="#000" stroke-width="1.45" fill="none" stroke-linejoin="miter"/>
<g clip-path="url(#ct)" fill="none" stroke="#0000ff" stroke-width="2.4" stroke-linejoin="round">
<path d="M139.6,175.2 L140.1,175.2 L140.6,175.2 L141.1,175.2 L141.6,175.2 L142.1,175.2 L142.6,175.2 L143.1,175.2 L143.6,175.2 L144.1,175.2 L144.6,175.2 L145.1,175.2 L145.6,175.2 L146.1,175.2 L146.6,175.2 L147.1,175.2 L147.6,175.2 L148.1,175.2 L148.6,175.2 L149.1,175.2 L149.6,175.2 L150.1,175.2 L150.6,175.2 L151.1,175.2 L151.6,175.2 L152.1,175.2 L152.6,175.2 L153.1,175.2 L153.6,175.2 L154.1,175.2 L154.6,175.2 L155.1,175.2 L155.6,175.2 L156.1,175.2 L156.6,175.2 L157.1,175.2 L157.6,175.2 L158.1,175.2 L158.6,175.2 L159.1,175.2 L159.6,175.2 L160.1,175.2 L160.6,175.2 L161.1,175.2 L161.6,175.2 L162.1,175.2 L162.6,175.2 L163.1,175.2 L163.6,175.2 L164.1,175.2 L164.6,175.2 L165.1,175.2 L165.6,175.2 L166.1,175.2 L166.6,175.2 L167.1,175.2 L167.6,175.2 L168.1,175.2 L168.6,175.2 L169.1,175.2 L169.6,175.2 L170.1,175.2 L170.6,175.2 L171.1,175.2 L171.6,175.2 L172.1,175.2 L172.6,175.2 L173.1,175.2 L173.6,175.2 L174.1,175.2 L174.6,175.2 L175.1,175.2 L175.6,175.2 L176.1,175.2 L176.6,175.2 L177.1,175.2 L177.6,175.2 L178.1,175.2 L178.6,175.2 L179.1,175.2 L179.6,175.2 L180.1,175.2 L180.6,175.2 L181.1,175.2 L181.6,175.2 L182.1,175.2 L182.6,175.2 L183.1,175.2 L183.6,175.2 L184.1,175.2 L184.6,175.2 L185.1,175.2 L185.6,175.2 L186.1,175.2 L186.6,175.2 L187.1,175.2 L187.6,175.2 L188.1,175.2 L188.6,175.2 L189.1,175.2 L189.6,175.2 L190.1,175.2 L190.6,175.2 L191.1,175.2 L191.6,175.2 L192.1,175.2 L192.6,175.2 L193.1,175.2 L193.6,175.2 L194.1,175.2 L194.6,175.2 L195.1,175.2 L195.6,175.2 L196.1,175.2 L196.6,175.2 L197.1,175.2 L197.6,175.2 L198.1,175.2 L198.6,175.2 L199.1,175.2 L199.6,175.2 L200.1,175.2 L200.6,175.2 L201.1,175.2 L201.6,175.2 L202.1,175.2 L202.6,175.2 L203.1,175.2 L203.6,175.2 L204.1,175.2 L204.6,175.2 L205.1,175.2 L205.6,175.2 L206.1,175.2 L206.6,175.2 L207.1,175.2 L207.6,175.2 L208.1,175.2 L208.6,175.2 L209.1,175.2 L209.6,175.2 L210.1,175.2 L210.6,175.2 L211.1,175.2 L211.6,175.2 L212.1,175.2 L212.6,175.2 L213.1,175.2 L213.6,175.2 L214.1,175.2 L214.6,175.2 L215.1,175.2 L215.6,175.2 L216.1,175.2 L216.6,175.2 L217.1,175.2 L217.6,175.2 L218.1,175.2 L218.6,175.2 L219.1,175.2 L219.6,175.2 L220.1,175.2 L220.6,175.2 L221.1,175.2 L221.6,175.2 L222.1,175.2 L222.6,175.2 L223.1,175.2 L223.6,175.2 L224.1,175.2 L224.6,175.2 L225.1,175.2 L225.6,175.2 L226.1,175.2 L226.6,175.2 L227.1,175.2 L227.6,175.2 L228.1,175.2 L228.6,175.2 L229.1,175.2 L229.6,175.2 L230.1,175.2 L230.6,175.2 L231.1,175.2 L231.6,175.2 L232.1,175.2 L232.6,175.2 L233.1,175.2 L233.6,175.2 L234.1,175.2 L234.6,175.2 L235.1,175.2 L235.6,175.2 L236.1,175.2 L236.6,175.2 L237.1,175.2 L237.6,175.2 L238.1,175.2 L238.6,175.2 L239.1,175.2 L239.6,175.2 L240.1,175.2 L240.6,175.2 L241.1,175.2 L241.6,175.2 L242.1,175.2 L242.6,175.2 L243.1,175.2 L243.6,175.2 L244.1,175.2 L244.6,175.2 L245.1,175.2 L245.6,175.2 L246.1,175.2 L246.6,175.2 L247.1,175.2 L247.6,175.2 L248.1,175.2 L248.6,175.2 L249.1,175.2 L249.6,175.2 L250.1,175.2 L250.6,175.2 L251.1,175.2 L251.6,175.2 L252.1,175.2 L252.6,175.2 L253.1,175.2 L253.6,175.2 L254.1,175.2 L254.6,175.2 L255.1,175.2 L255.6,175.2 L256.1,175.2 L256.6,175.2 L257.1,175.2 L257.6,175.2 L258.1,175.2 L258.6,175.2 L259.1,175.2 L259.6,175.2 L260.1,175.2 L260.6,175.2 L261.1,175.2 L261.6,175.2 L262.1,175.2 L262.6,175.2 L263.1,175.2 L263.6,175.2 L264.1,175.2 L264.6,175.2 L265.1,175.2 L265.6,175.2 L266.1,175.2 L266.6,175.2 L267.1,175.2 L267.6,175.2 L268.1,175.2 L268.6,175.2 L269.1,175.2 L269.6,175.2 L270.1,175.2 L270.6,175.2 L271.1,175.2 L271.6,175.2 L272.1,175.2 L272.6,175.2 L273.1,175.2 L273.6,175.2 L274.1,175.2 L274.6,175.2 L275.1,175.2 L275.6,175.2 L276.1,175.2 L276.6,175.2 L277.1,175.2 L277.6,175.2 L278.1,175.2 L278.6,175.2 L279.1,175.2 L279.6,175.2 L280.1,175.2 L280.6,175.2 L281.1,175.2 L281.6,175.21 L282.1,175.21 L282.6,175.21 L283.1,175.21 L283.6,175.21 L284.1,175.21 L284.6,175.21 L285.1,175.21 L285.6,175.21 L286.1,175.21 L286.6,175.21 L287.1,175.21 L287.6,175.21 L288.1,175.21 L288.6,175.21 L289.1,175.21 L289.6,175.21 L290.1,175.21 L290.6,175.21 L291.1,175.21 L291.6,175.21 L292.1,175.21 L292.6,175.21 L293.1,175.21 L293.6,175.21 L294.1,175.21 L294.6,175.21 L295.1,175.21 L295.6,175.21 L296.1,175.21 L296.6,175.21 L297.1,175.21 L297.6,175.21 L298.1,175.21 L298.6,175.21 L299.1,175.21 L299.6,175.21 L300.1,175.21 L300.6,175.21 L301.1,175.21 L301.6,175.21 L302.1,175.21 L302.6,175.21 L303.1,175.21 L303.6,175.21 L304.1,175.21 L304.6,175.21 L305.1,175.22 L305.6,175.22 L306.1,175.22 L306.6,175.22 L307.1,175.22 L307.6,175.22 L308.1,175.22 L308.6,175.22 L309.1,175.22 L309.6,175.22 L310.1,175.22 L310.6,175.22 L311.1,175.22 L311.6,175.22 L312.1,175.22 L312.6,175.22 L313.1,175.22 L313.6,175.22 L314.1,175.22 L314.6,175.22 L315.1,175.22 L315.6,175.23 L316.1,175.23 L316.6,175.23 L317.1,175.23 L317.6,175.23 L318.1,175.23 L318.6,175.23 L319.1,175.23 L319.6,175.23 L320.1,175.23 L320.6,175.23 L321.1,175.23 L321.6,175.23 L322.1,175.23 L322.6,175.24 L323.1,175.24 L323.6,175.24 L324.1,175.24 L324.6,175.24 L325.1,175.24 L325.6,175.24 L326.1,175.24 L326.6,175.24 L327.1,175.24 L327.6,175.24 L328.1,175.25 L328.6,175.25 L329.1,175.25 L329.6,175.25 L330.1,175.25 L330.6,175.25 L331.1,175.25 L331.6,175.25 L332.1,175.26 L332.6,175.26 L333.1,175.26 L333.6,175.26 L334.1,175.26 L334.6,175.26 L335.1,175.26 L335.6,175.27 L336.1,175.27 L336.6,175.27 L337.1,175.27 L337.6,175.27 L338.1,175.27 L338.6,175.28 L339.1,175.28 L339.6,175.28 L340.1,175.28 L340.6,175.28 L341.1,175.29 L341.6,175.29 L342.1,175.29 L342.6,175.29 L343.1,175.29 L343.6,175.3 L344.1,175.3 L344.6,175.3 L345.1,175.3 L345.6,175.31 L346.1,175.31 L346.6,175.31 L347.1,175.31 L347.6,175.32 L348.1,175.32 L348.6,175.32 L349.1,175.33 L349.6,175.33 L350.1,175.33 L350.6,175.33 L351.1,175.34 L351.6,175.34 L352.1,175.35 L352.6,175.35 L353.1,175.35 L353.6,175.36 L354.1,175.36 L354.6,175.36 L355.1,175.37 L355.6,175.37 L356.1,175.38 L356.6,175.38 L357.1,175.39 L357.6,175.39 L358.1,175.4 L358.6,175.4 L359.1,175.4 L359.6,175.41 L360.1,175.42 L360.6,175.42 L361.1,175.43 L361.6,175.43 L362.1,175.44 L362.6,175.44 L363.1,175.45 L363.6,175.46 L364.1,175.46 L364.6,175.47 L365.1,175.48 L365.6,175.48 L366.1,175.49 L366.6,175.5 L367.1,175.51 L367.6,175.51 L368.1,175.52 L368.6,175.53 L369.1,175.54 L369.6,175.55 L370.1,175.56 L370.6,175.57 L371.1,175.57 L371.6,175.58 L372.1,175.59 L372.6,175.6 L373.1,175.61 L373.6,175.63 L374.1,175.64 L374.6,175.65 L375.1,175.66 L375.6,175.67 L376.1,175.68 L376.6,175.7 L377.1,175.71 L377.6,175.72 L378.1,175.74 L378.6,175.75 L379.1,175.77 L379.6,175.78 L380.1,175.8 L380.6,175.81 L381.1,175.83 L381.6,175.85 L382.1,175.86 L382.6,175.88 L383.1,175.9 L383.6,175.92 L384.1,175.94 L384.6,175.96 L385.1,175.98 L385.6,176 L386.1,176.02 L386.6,176.04 L387.1,176.07 L387.6,176.09 L388.1,176.12 L388.6,176.14 L389.1,176.17 L389.6,176.19 L390.1,176.22 L390.6,176.25 L391.1,176.28 L391.6,176.31 L392.1,176.34 L392.6,176.37 L393.1,176.41 L393.6,176.44 L394.1,176.48 L394.6,176.51 L395.1,176.55 L395.6,176.59 L396.1,176.63 L396.6,176.67 L397.1,176.71 L397.6,176.76 L398.1,176.8 L398.6,176.85 L399.1,176.9 L399.6,176.95 L400.1,177 L400.6,177.05 L401.1,177.1 L401.6,177.16 L402.1,177.22 L402.6,177.28 L403.1,177.34 L403.6,177.4 L404.1,177.47 L404.6,177.54 L405.1,177.61 L405.6,177.68 L406.1,177.75 L406.6,177.83 L407.1,177.91 L407.6,177.99 L408.1,178.08 L408.6,178.17 L409.1,178.26 L409.6,178.35 L410.1,178.45 L410.6,178.55 L411.1,178.65 L411.6,178.76 L412.1,178.87 L412.6,178.99 L413.1,179.11 L413.6,179.23 L414.1,179.35 L414.6,179.49 L415.1,179.62 L415.6,179.76 L416.1,179.91 L416.6,180.05 L417.1,180.21 L417.6,180.37 L418.1,180.53 L418.6,180.71 L419.1,180.88 L419.6,181.06 L420.1,181.25 L420.6,181.45 L421.1,181.65 L421.6,181.86 L422.1,182.08 L422.6,182.3 L423.1,182.53 L423.6,182.77 L424.1,183.02 L424.6,183.28 L425.1,183.54 L425.6,183.82 L426.1,184.1 L426.6,184.39 L427.1,184.7 L427.6,185.01 L428.1,185.34 L428.6,185.67 L429.1,186.02 L429.6,186.38 L430.1,186.76 L430.6,187.14 L431.1,187.54 L431.6,187.95 L432.1,188.38 L432.6,188.82 L433.1,189.28 L433.6,189.75 L434.1,190.25 L434.6,190.75 L435.1,191.28 L435.6,191.82 L436.1,192.38 L436.6,192.96 L437.1,193.57 L437.6,194.19 L438.1,194.83 L438.6,195.5 L439.1,196.19 L439.6,196.91 L440.1,197.65 L440.6,198.41 L441.1,199.2 L441.6,200.02 L442.1,200.87 L442.6,201.75 L443.1,202.66 L443.6,203.6 L444.1,204.57 L444.6,205.58 L445.1,206.62 L445.6,207.7 L446.1,208.81 L446.6,209.97 L447.1,211.17 L447.6,212.4 L448.1,213.68 L448.6,215.01 L449.1,216.38 L449.6,217.8 L450.1,219.27 L450.6,220.79 L451.1,222.37 L451.6,224 L452.1,225.68 L452.6,227.43 L453.1,229.23 L453.6,231.1 L454.1,233.04 L454.6,235.04 L455.1,237.11 L455.6,239.26 L456.1,241.48 L456.6,243.78 L457.1,246.15 L457.6,248.62 L458.1,251.16 L458.6,253.8 L459.1,256.53 L459.6,259.36 L460.1,262.28 L460.6,265.31 L461.1,268.44 L461.6,271.69 L462.1,275.04 L462.6,278.52 L463.1,282.12 L463.6,285.84 L464.1,289.69 L464.6,293.68 L465.1,297.81 L465.6,302.09 L466.1,306.51 L466.6,311.09 L467.1,315.83 L467.6,320.74 L468.1,325.82 L468.6,331.08 L469.1,336.53 L469.6,342.17 L470.1,348 L470.6,354.04 L471.1,360.3 L471.6,366.77 L472.1,373.48 L472.6,380.41"/>
<path d="M139.6,203.9 L140.1,203.9 L140.6,203.9 L141.1,203.9 L141.6,203.9 L142.1,203.9 L142.6,203.9 L143.1,203.9 L143.6,203.9 L144.1,203.9 L144.6,203.9 L145.1,203.9 L145.6,203.9 L146.1,203.9 L146.6,203.9 L147.1,203.9 L147.6,203.9 L148.1,203.9 L148.6,203.9 L149.1,203.9 L149.6,203.9 L150.1,203.9 L150.6,203.9 L151.1,203.9 L151.6,203.9 L152.1,203.9 L152.6,203.9 L153.1,203.9 L153.6,203.9 L154.1,203.9 L154.6,203.9 L155.1,203.9 L155.6,203.9 L156.1,203.9 L156.6,203.9 L157.1,203.9 L157.6,203.9 L158.1,203.9 L158.6,203.9 L159.1,203.9 L159.6,203.9 L160.1,203.9 L160.6,203.9 L161.1,203.9 L161.6,203.9 L162.1,203.9 L162.6,203.9 L163.1,203.9 L163.6,203.9 L164.1,203.9 L164.6,203.9 L165.1,203.9 L165.6,203.9 L166.1,203.9 L166.6,203.9 L167.1,203.9 L167.6,203.9 L168.1,203.9 L168.6,203.9 L169.1,203.9 L169.6,203.9 L170.1,203.9 L170.6,203.9 L171.1,203.9 L171.6,203.9 L172.1,203.9 L172.6,203.9 L173.1,203.9 L173.6,203.9 L174.1,203.9 L174.6,203.9 L175.1,203.9 L175.6,203.9 L176.1,203.9 L176.6,203.9 L177.1,203.9 L177.6,203.9 L178.1,203.9 L178.6,203.9 L179.1,203.9 L179.6,203.9 L180.1,203.9 L180.6,203.9 L181.1,203.9 L181.6,203.9 L182.1,203.9 L182.6,203.9 L183.1,203.9 L183.6,203.9 L184.1,203.9 L184.6,203.9 L185.1,203.9 L185.6,203.9 L186.1,203.9 L186.6,203.9 L187.1,203.9 L187.6,203.9 L188.1,203.9 L188.6,203.9 L189.1,203.9 L189.6,203.9 L190.1,203.9 L190.6,203.9 L191.1,203.9 L191.6,203.9 L192.1,203.9 L192.6,203.9 L193.1,203.9 L193.6,203.9 L194.1,203.9 L194.6,203.9 L195.1,203.9 L195.6,203.9 L196.1,203.9 L196.6,203.9 L197.1,203.9 L197.6,203.9 L198.1,203.9 L198.6,203.9 L199.1,203.9 L199.6,203.9 L200.1,203.9 L200.6,203.9 L201.1,203.9 L201.6,203.9 L202.1,203.9 L202.6,203.9 L203.1,203.9 L203.6,203.9 L204.1,203.9 L204.6,203.9 L205.1,203.9 L205.6,203.9 L206.1,203.9 L206.6,203.9 L207.1,203.9 L207.6,203.9 L208.1,203.9 L208.6,203.9 L209.1,203.9 L209.6,203.9 L210.1,203.9 L210.6,203.9 L211.1,203.9 L211.6,203.9 L212.1,203.9 L212.6,203.9 L213.1,203.9 L213.6,203.9 L214.1,203.9 L214.6,203.9 L215.1,203.9 L215.6,203.9 L216.1,203.9 L216.6,203.9 L217.1,203.9 L217.6,203.9 L218.1,203.9 L218.6,203.9 L219.1,203.9 L219.6,203.9 L220.1,203.9 L220.6,203.9 L221.1,203.9 L221.6,203.9 L222.1,203.9 L222.6,203.9 L223.1,203.9 L223.6,203.9 L224.1,203.9 L224.6,203.9 L225.1,203.9 L225.6,203.9 L226.1,203.9 L226.6,203.9 L227.1,203.9 L227.6,203.9 L228.1,203.9 L228.6,203.9 L229.1,203.9 L229.6,203.9 L230.1,203.9 L230.6,203.9 L231.1,203.9 L231.6,203.9 L232.1,203.9 L232.6,203.9 L233.1,203.9 L233.6,203.9 L234.1,203.9 L234.6,203.9 L235.1,203.91 L235.6,203.91 L236.1,203.91 L236.6,203.91 L237.1,203.91 L237.6,203.91 L238.1,203.91 L238.6,203.91 L239.1,203.91 L239.6,203.91 L240.1,203.91 L240.6,203.91 L241.1,203.91 L241.6,203.91 L242.1,203.91 L242.6,203.91 L243.1,203.91 L243.6,203.91 L244.1,203.91 L244.6,203.91 L245.1,203.91 L245.6,203.91 L246.1,203.91 L246.6,203.91 L247.1,203.91 L247.6,203.91 L248.1,203.91 L248.6,203.91 L249.1,203.91 L249.6,203.91 L250.1,203.91 L250.6,203.91 L251.1,203.91 L251.6,203.91 L252.1,203.91 L252.6,203.91 L253.1,203.91 L253.6,203.91 L254.1,203.91 L254.6,203.91 L255.1,203.91 L255.6,203.91 L256.1,203.91 L256.6,203.91 L257.1,203.91 L257.6,203.91 L258.1,203.91 L258.6,203.92 L259.1,203.92 L259.6,203.92 L260.1,203.92 L260.6,203.92 L261.1,203.92 L261.6,203.92 L262.1,203.92 L262.6,203.92 L263.1,203.92 L263.6,203.92 L264.1,203.92 L264.6,203.92 L265.1,203.92 L265.6,203.92 L266.1,203.92 L266.6,203.92 L267.1,203.92 L267.6,203.92 L268.1,203.92 L268.6,203.92 L269.1,203.93 L269.6,203.93 L270.1,203.93 L270.6,203.93 L271.1,203.93 L271.6,203.93 L272.1,203.93 L272.6,203.93 L273.1,203.93 L273.6,203.93 L274.1,203.93 L274.6,203.93 L275.1,203.93 L275.6,203.93 L276.1,203.94 L276.6,203.94 L277.1,203.94 L277.6,203.94 L278.1,203.94 L278.6,203.94 L279.1,203.94 L279.6,203.94 L280.1,203.94 L280.6,203.94 L281.1,203.94 L281.6,203.95 L282.1,203.95 L282.6,203.95 L283.1,203.95 L283.6,203.95 L284.1,203.95 L284.6,203.95 L285.1,203.95 L285.6,203.96 L286.1,203.96 L286.6,203.96 L287.1,203.96 L287.6,203.96 L288.1,203.96 L288.6,203.96 L289.1,203.97 L289.6,203.97 L290.1,203.97 L290.6,203.97 L291.1,203.97 L291.6,203.97 L292.1,203.98 L292.6,203.98 L293.1,203.98 L293.6,203.98 L294.1,203.98 L294.6,203.99 L295.1,203.99 L295.6,203.99 L296.1,203.99 L296.6,203.99 L297.1,204 L297.6,204 L298.1,204 L298.6,204 L299.1,204.01 L299.6,204.01 L300.1,204.01 L300.6,204.01 L301.1,204.02 L301.6,204.02 L302.1,204.02 L302.6,204.03 L303.1,204.03 L303.6,204.03 L304.1,204.03 L304.6,204.04 L305.1,204.04 L305.6,204.05 L306.1,204.05 L306.6,204.05 L307.1,204.06 L307.6,204.06 L308.1,204.06 L308.6,204.07 L309.1,204.07 L309.6,204.08 L310.1,204.08 L310.6,204.09 L311.1,204.09 L311.6,204.1 L312.1,204.1 L312.6,204.1 L313.1,204.11 L313.6,204.12 L314.1,204.12 L314.6,204.13 L315.1,204.13 L315.6,204.14 L316.1,204.14 L316.6,204.15 L317.1,204.16 L317.6,204.16 L318.1,204.17 L318.6,204.18 L319.1,204.18 L319.6,204.19 L320.1,204.2 L320.6,204.21 L321.1,204.21 L321.6,204.22 L322.1,204.23 L322.6,204.24 L323.1,204.25 L323.6,204.26 L324.1,204.27 L324.6,204.27 L325.1,204.28 L325.6,204.29 L326.1,204.3 L326.6,204.31 L327.1,204.33 L327.6,204.34 L328.1,204.35 L328.6,204.36 L329.1,204.37 L329.6,204.38 L330.1,204.4 L330.6,204.41 L331.1,204.42 L331.6,204.44 L332.1,204.45 L332.6,204.47 L333.1,204.48 L333.6,204.5 L334.1,204.51 L334.6,204.53 L335.1,204.55 L335.6,204.56 L336.1,204.58 L336.6,204.6 L337.1,204.62 L337.6,204.64 L338.1,204.66 L338.6,204.68 L339.1,204.7 L339.6,204.72 L340.1,204.74 L340.6,204.77 L341.1,204.79 L341.6,204.82 L342.1,204.84 L342.6,204.87 L343.1,204.89 L343.6,204.92 L344.1,204.95 L344.6,204.98 L345.1,205.01 L345.6,205.04 L346.1,205.07 L346.6,205.11 L347.1,205.14 L347.6,205.18 L348.1,205.21 L348.6,205.25 L349.1,205.29 L349.6,205.33 L350.1,205.37 L350.6,205.41 L351.1,205.46 L351.6,205.5 L352.1,205.55 L352.6,205.6 L353.1,205.65 L353.6,205.7 L354.1,205.75 L354.6,205.8 L355.1,205.86 L355.6,205.92 L356.1,205.98 L356.6,206.04 L357.1,206.1 L357.6,206.17 L358.1,206.24 L358.6,206.31 L359.1,206.38 L359.6,206.45 L360.1,206.53 L360.6,206.61 L361.1,206.69 L361.6,206.78 L362.1,206.87 L362.6,206.96 L363.1,207.05 L363.6,207.15 L364.1,207.25 L364.6,207.35 L365.1,207.46 L365.6,207.57 L366.1,207.69 L366.6,207.81 L367.1,207.93 L367.6,208.05 L368.1,208.19 L368.6,208.32 L369.1,208.46 L369.6,208.61 L370.1,208.75 L370.6,208.91 L371.1,209.07 L371.6,209.23 L372.1,209.41 L372.6,209.58 L373.1,209.76 L373.6,209.95 L374.1,210.15 L374.6,210.35 L375.1,210.56 L375.6,210.78 L376.1,211 L376.6,211.23 L377.1,211.47 L377.6,211.72 L378.1,211.98 L378.6,212.24 L379.1,212.52 L379.6,212.8 L380.1,213.09 L380.6,213.4 L381.1,213.71 L381.6,214.04 L382.1,214.37 L382.6,214.72 L383.1,215.08 L383.6,215.46 L384.1,215.84 L384.6,216.24 L385.1,216.65 L385.6,217.08 L386.1,217.52 L386.6,217.98 L387.1,218.45 L387.6,218.95 L388.1,219.45 L388.6,219.98 L389.1,220.52 L389.6,221.08 L390.1,221.66 L390.6,222.27 L391.1,222.89 L391.6,223.53 L392.1,224.2 L392.6,224.89 L393.1,225.61 L393.6,226.35 L394.1,227.11 L394.6,227.9 L395.1,228.72 L395.6,229.57 L396.1,230.45 L396.6,231.36 L397.1,232.3 L397.6,233.27 L398.1,234.28 L398.6,235.32 L399.1,236.4 L399.6,237.51 L400.1,238.67 L400.6,239.87 L401.1,241.1 L401.6,242.38 L402.1,243.71 L402.6,245.08 L403.1,246.5 L403.6,247.97 L404.1,249.49 L404.6,251.07 L405.1,252.7 L405.6,254.38 L406.1,256.13 L406.6,257.93 L407.1,259.8 L407.6,261.74 L408.1,263.74 L408.6,265.81 L409.1,267.96 L409.6,270.18 L410.1,272.48 L410.6,274.85 L411.1,277.32 L411.6,279.86 L412.1,282.5 L412.6,285.23 L413.1,288.06 L413.6,290.98 L414.1,294.01 L414.6,297.14 L415.1,300.39 L415.6,303.74 L416.1,307.22 L416.6,310.82 L417.1,314.54 L417.6,318.39 L418.1,322.38 L418.6,326.51 L419.1,330.79 L419.6,335.21 L420.1,339.79 L420.6,344.53 L421.1,349.44 L421.6,354.52 L422.1,359.78 L422.6,365.23 L423.1,370.87 L423.6,376.7"/>
<path d="M139.6,235.4 L140.1,235.4 L140.6,235.4 L141.1,235.4 L141.6,235.4 L142.1,235.4 L142.6,235.4 L143.1,235.4 L143.6,235.4 L144.1,235.4 L144.6,235.4 L145.1,235.4 L145.6,235.4 L146.1,235.4 L146.6,235.4 L147.1,235.4 L147.6,235.4 L148.1,235.4 L148.6,235.4 L149.1,235.4 L149.6,235.4 L150.1,235.4 L150.6,235.4 L151.1,235.4 L151.6,235.4 L152.1,235.4 L152.6,235.4 L153.1,235.4 L153.6,235.4 L154.1,235.4 L154.6,235.4 L155.1,235.4 L155.6,235.4 L156.1,235.4 L156.6,235.4 L157.1,235.4 L157.6,235.4 L158.1,235.4 L158.6,235.4 L159.1,235.4 L159.6,235.4 L160.1,235.4 L160.6,235.4 L161.1,235.4 L161.6,235.4 L162.1,235.4 L162.6,235.4 L163.1,235.4 L163.6,235.4 L164.1,235.4 L164.6,235.4 L165.1,235.4 L165.6,235.4 L166.1,235.4 L166.6,235.4 L167.1,235.4 L167.6,235.4 L168.1,235.4 L168.6,235.4 L169.1,235.4 L169.6,235.4 L170.1,235.4 L170.6,235.4 L171.1,235.4 L171.6,235.4 L172.1,235.4 L172.6,235.4 L173.1,235.4 L173.6,235.4 L174.1,235.4 L174.6,235.4 L175.1,235.4 L175.6,235.4 L176.1,235.4 L176.6,235.4 L177.1,235.4 L177.6,235.4 L178.1,235.4 L178.6,235.4 L179.1,235.4 L179.6,235.4 L180.1,235.4 L180.6,235.4 L181.1,235.4 L181.6,235.4 L182.1,235.4 L182.6,235.4 L183.1,235.4 L183.6,235.4 L184.1,235.41 L184.6,235.41 L185.1,235.41 L185.6,235.41 L186.1,235.41 L186.6,235.41 L187.1,235.41 L187.6,235.41 L188.1,235.41 L188.6,235.41 L189.1,235.41 L189.6,235.41 L190.1,235.41 L190.6,235.41 L191.1,235.41 L191.6,235.41 L192.1,235.41 L192.6,235.41 L193.1,235.41 L193.6,235.41 L194.1,235.41 L194.6,235.41 L195.1,235.41 L195.6,235.41 L196.1,235.41 L196.6,235.41 L197.1,235.41 L197.6,235.41 L198.1,235.41 L198.6,235.41 L199.1,235.41 L199.6,235.41 L200.1,235.41 L200.6,235.41 L201.1,235.41 L201.6,235.41 L202.1,235.41 L202.6,235.41 L203.1,235.41 L203.6,235.41 L204.1,235.41 L204.6,235.41 L205.1,235.41 L205.6,235.41 L206.1,235.41 L206.6,235.41 L207.1,235.41 L207.6,235.42 L208.1,235.42 L208.6,235.42 L209.1,235.42 L209.6,235.42 L210.1,235.42 L210.6,235.42 L211.1,235.42 L211.6,235.42 L212.1,235.42 L212.6,235.42 L213.1,235.42 L213.6,235.42 L214.1,235.42 L214.6,235.42 L215.1,235.42 L215.6,235.42 L216.1,235.42 L216.6,235.42 L217.1,235.42 L217.6,235.42 L218.1,235.43 L218.6,235.43 L219.1,235.43 L219.6,235.43 L220.1,235.43 L220.6,235.43 L221.1,235.43 L221.6,235.43 L222.1,235.43 L222.6,235.43 L223.1,235.43 L223.6,235.43 L224.1,235.43 L224.6,235.43 L225.1,235.44 L225.6,235.44 L226.1,235.44 L226.6,235.44 L227.1,235.44 L227.6,235.44 L228.1,235.44 L228.6,235.44 L229.1,235.44 L229.6,235.44 L230.1,235.44 L230.6,235.45 L231.1,235.45 L231.6,235.45 L232.1,235.45 L232.6,235.45 L233.1,235.45 L233.6,235.45 L234.1,235.45 L234.6,235.46 L235.1,235.46 L235.6,235.46 L236.1,235.46 L236.6,235.46 L237.1,235.46 L237.6,235.46 L238.1,235.47 L238.6,235.47 L239.1,235.47 L239.6,235.47 L240.1,235.47 L240.6,235.47 L241.1,235.48 L241.6,235.48 L242.1,235.48 L242.6,235.48 L243.1,235.48 L243.6,235.49 L244.1,235.49 L244.6,235.49 L245.1,235.49 L245.6,235.49 L246.1,235.5 L246.6,235.5 L247.1,235.5 L247.6,235.5 L248.1,235.51 L248.6,235.51 L249.1,235.51 L249.6,235.51 L250.1,235.52 L250.6,235.52 L251.1,235.52 L251.6,235.53 L252.1,235.53 L252.6,235.53 L253.1,235.53 L253.6,235.54 L254.1,235.54 L254.6,235.55 L255.1,235.55 L255.6,235.55 L256.1,235.56 L256.6,235.56 L257.1,235.56 L257.6,235.57 L258.1,235.57 L258.6,235.58 L259.1,235.58 L259.6,235.59 L260.1,235.59 L260.6,235.6 L261.1,235.6 L261.6,235.6 L262.1,235.61 L262.6,235.62 L263.1,235.62 L263.6,235.63 L264.1,235.63 L264.6,235.64 L265.1,235.64 L265.6,235.65 L266.1,235.66 L266.6,235.66 L267.1,235.67 L267.6,235.68 L268.1,235.68 L268.6,235.69 L269.1,235.7 L269.6,235.71 L270.1,235.71 L270.6,235.72 L271.1,235.73 L271.6,235.74 L272.1,235.75 L272.6,235.76 L273.1,235.77 L273.6,235.77 L274.1,235.78 L274.6,235.79 L275.1,235.8 L275.6,235.81 L276.1,235.83 L276.6,235.84 L277.1,235.85 L277.6,235.86 L278.1,235.87 L278.6,235.88 L279.1,235.9 L279.6,235.91 L280.1,235.92 L280.6,235.94 L281.1,235.95 L281.6,235.97 L282.1,235.98 L282.6,236 L283.1,236.01 L283.6,236.03 L284.1,236.05 L284.6,236.06 L285.1,236.08 L285.6,236.1 L286.1,236.12 L286.6,236.14 L287.1,236.16 L287.6,236.18 L288.1,236.2 L288.6,236.22 L289.1,236.24 L289.6,236.27 L290.1,236.29 L290.6,236.32 L291.1,236.34 L291.6,236.37 L292.1,236.39 L292.6,236.42 L293.1,236.45 L293.6,236.48 L294.1,236.51 L294.6,236.54 L295.1,236.57 L295.6,236.61 L296.1,236.64 L296.6,236.68 L297.1,236.71 L297.6,236.75 L298.1,236.79 L298.6,236.83 L299.1,236.87 L299.6,236.91 L300.1,236.96 L300.6,237 L301.1,237.05 L301.6,237.1 L302.1,237.15 L302.6,237.2 L303.1,237.25 L303.6,237.3 L304.1,237.36 L304.6,237.42 L305.1,237.48 L305.6,237.54 L306.1,237.6 L306.6,237.67 L307.1,237.74 L307.6,237.81 L308.1,237.88 L308.6,237.95 L309.1,238.03 L309.6,238.11 L310.1,238.19 L310.6,238.28 L311.1,238.37 L311.6,238.46 L312.1,238.55 L312.6,238.65 L313.1,238.75 L313.6,238.85 L314.1,238.96 L314.6,239.07 L315.1,239.19 L315.6,239.31 L316.1,239.43 L316.6,239.55 L317.1,239.69 L317.6,239.82 L318.1,239.96 L318.6,240.11 L319.1,240.25 L319.6,240.41 L320.1,240.57 L320.6,240.73 L321.1,240.91 L321.6,241.08 L322.1,241.26 L322.6,241.45 L323.1,241.65 L323.6,241.85 L324.1,242.06 L324.6,242.28 L325.1,242.5 L325.6,242.73 L326.1,242.97 L326.6,243.22 L327.1,243.48 L327.6,243.74 L328.1,244.02 L328.6,244.3 L329.1,244.59 L329.6,244.9 L330.1,245.21 L330.6,245.54 L331.1,245.87 L331.6,246.22 L332.1,246.58 L332.6,246.96 L333.1,247.34 L333.6,247.74 L334.1,248.15 L334.6,248.58 L335.1,249.02 L335.6,249.48 L336.1,249.95 L336.6,250.45 L337.1,250.95 L337.6,251.48 L338.1,252.02 L338.6,252.58 L339.1,253.16 L339.6,253.77 L340.1,254.39 L340.6,255.03 L341.1,255.7 L341.6,256.39 L342.1,257.11 L342.6,257.85 L343.1,258.61 L343.6,259.4 L344.1,260.22 L344.6,261.07 L345.1,261.95 L345.6,262.86 L346.1,263.8 L346.6,264.77 L347.1,265.78 L347.6,266.82 L348.1,267.9 L348.6,269.01 L349.1,270.17 L349.6,271.37 L350.1,272.6 L350.6,273.88 L351.1,275.21 L351.6,276.58 L352.1,278 L352.6,279.47 L353.1,280.99 L353.6,282.57 L354.1,284.2 L354.6,285.88 L355.1,287.63 L355.6,289.43 L356.1,291.3 L356.6,293.24 L357.1,295.24 L357.6,297.31 L358.1,299.46 L358.6,301.68 L359.1,303.98 L359.6,306.35 L360.1,308.82 L360.6,311.36 L361.1,314 L361.6,316.73 L362.1,319.56 L362.6,322.48 L363.1,325.51 L363.6,328.64 L364.1,331.89 L364.6,335.24 L365.1,338.72 L365.6,342.32 L366.1,346.04 L366.6,349.89 L367.1,353.88 L367.6,358.01 L368.1,362.29 L368.6,366.71 L369.1,371.29 L369.6,376.03"/>
<path d="M139.6,264.11 L140.1,264.11 L140.6,264.11 L141.1,264.11 L141.6,264.11 L142.1,264.11 L142.6,264.11 L143.1,264.11 L143.6,264.11 L144.1,264.11 L144.6,264.11 L145.1,264.11 L145.6,264.11 L146.1,264.11 L146.6,264.11 L147.1,264.11 L147.6,264.11 L148.1,264.11 L148.6,264.11 L149.1,264.11 L149.6,264.11 L150.1,264.11 L150.6,264.11 L151.1,264.11 L151.6,264.11 L152.1,264.11 L152.6,264.11 L153.1,264.11 L153.6,264.11 L154.1,264.11 L154.6,264.11 L155.1,264.11 L155.6,264.11 L156.1,264.11 L156.6,264.11 L157.1,264.11 L157.6,264.11 L158.1,264.11 L158.6,264.11 L159.1,264.11 L159.6,264.11 L160.1,264.11 L160.6,264.11 L161.1,264.12 L161.6,264.12 L162.1,264.12 L162.6,264.12 L163.1,264.12 L163.6,264.12 L164.1,264.12 L164.6,264.12 L165.1,264.12 L165.6,264.12 L166.1,264.12 L166.6,264.12 L167.1,264.12 L167.6,264.12 L168.1,264.12 L168.6,264.12 L169.1,264.12 L169.6,264.12 L170.1,264.12 L170.6,264.12 L171.1,264.12 L171.6,264.13 L172.1,264.13 L172.6,264.13 L173.1,264.13 L173.6,264.13 L174.1,264.13 L174.6,264.13 L175.1,264.13 L175.6,264.13 L176.1,264.13 L176.6,264.13 L177.1,264.13 L177.6,264.13 L178.1,264.13 L178.6,264.14 L179.1,264.14 L179.6,264.14 L180.1,264.14 L180.6,264.14 L181.1,264.14 L181.6,264.14 L182.1,264.14 L182.6,264.14 L183.1,264.14 L183.6,264.14 L184.1,264.15 L184.6,264.15 L185.1,264.15 L185.6,264.15 L186.1,264.15 L186.6,264.15 L187.1,264.15 L187.6,264.15 L188.1,264.16 L188.6,264.16 L189.1,264.16 L189.6,264.16 L190.1,264.16 L190.6,264.16 L191.1,264.16 L191.6,264.17 L192.1,264.17 L192.6,264.17 L193.1,264.17 L193.6,264.17 L194.1,264.17 L194.6,264.18 L195.1,264.18 L195.6,264.18 L196.1,264.18 L196.6,264.18 L197.1,264.19 L197.6,264.19 L198.1,264.19 L198.6,264.19 L199.1,264.19 L199.6,264.2 L200.1,264.2 L200.6,264.2 L201.1,264.2 L201.6,264.21 L202.1,264.21 L202.6,264.21 L203.1,264.21 L203.6,264.22 L204.1,264.22 L204.6,264.22 L205.1,264.23 L205.6,264.23 L206.1,264.23 L206.6,264.23 L207.1,264.24 L207.6,264.24 L208.1,264.25 L208.6,264.25 L209.1,264.25 L209.6,264.26 L210.1,264.26 L210.6,264.26 L211.1,264.27 L211.6,264.27 L212.1,264.28 L212.6,264.28 L213.1,264.29 L213.6,264.29 L214.1,264.3 L214.6,264.3 L215.1,264.3 L215.6,264.31 L216.1,264.32 L216.6,264.32 L217.1,264.33 L217.6,264.33 L218.1,264.34 L218.6,264.34 L219.1,264.35 L219.6,264.36 L220.1,264.36 L220.6,264.37 L221.1,264.38 L221.6,264.38 L222.1,264.39 L222.6,264.4 L223.1,264.41 L223.6,264.41 L224.1,264.42 L224.6,264.43 L225.1,264.44 L225.6,264.45 L226.1,264.46 L226.6,264.47 L227.1,264.47 L227.6,264.48 L228.1,264.49 L228.6,264.5 L229.1,264.51 L229.6,264.53 L230.1,264.54 L230.6,264.55 L231.1,264.56 L231.6,264.57 L232.1,264.58 L232.6,264.6 L233.1,264.61 L233.6,264.62 L234.1,264.64 L234.6,264.65 L235.1,264.67 L235.6,264.68 L236.1,264.7 L236.6,264.71 L237.1,264.73 L237.6,264.75 L238.1,264.76 L238.6,264.78 L239.1,264.8 L239.6,264.82 L240.1,264.84 L240.6,264.86 L241.1,264.88 L241.6,264.9 L242.1,264.92 L242.6,264.94 L243.1,264.97 L243.6,264.99 L244.1,265.02 L244.6,265.04 L245.1,265.07 L245.6,265.09 L246.1,265.12 L246.6,265.15 L247.1,265.18 L247.6,265.21 L248.1,265.24 L248.6,265.27 L249.1,265.31 L249.6,265.34 L250.1,265.38 L250.6,265.41 L251.1,265.45 L251.6,265.49 L252.1,265.53 L252.6,265.57 L253.1,265.61 L253.6,265.66 L254.1,265.7 L254.6,265.75 L255.1,265.8 L255.6,265.85 L256.1,265.9 L256.6,265.95 L257.1,266 L257.6,266.06 L258.1,266.12 L258.6,266.18 L259.1,266.24 L259.6,266.3 L260.1,266.37 L260.6,266.44 L261.1,266.51 L261.6,266.58 L262.1,266.65 L262.6,266.73 L263.1,266.81 L263.6,266.89 L264.1,266.98 L264.6,267.07 L265.1,267.16 L265.6,267.25 L266.1,267.35 L266.6,267.45 L267.1,267.55 L267.6,267.66 L268.1,267.77 L268.6,267.89 L269.1,268.01 L269.6,268.13 L270.1,268.25 L270.6,268.39 L271.1,268.52 L271.6,268.66 L272.1,268.81 L272.6,268.95 L273.1,269.11 L273.6,269.27 L274.1,269.43 L274.6,269.61 L275.1,269.78 L275.6,269.96 L276.1,270.15 L276.6,270.35 L277.1,270.55 L277.6,270.76 L278.1,270.98 L278.6,271.2 L279.1,271.43 L279.6,271.67 L280.1,271.92 L280.6,272.18 L281.1,272.44 L281.6,272.72 L282.1,273 L282.6,273.29 L283.1,273.6 L283.6,273.91 L284.1,274.24 L284.6,274.57 L285.1,274.92 L285.6,275.28 L286.1,275.66 L286.6,276.04 L287.1,276.44 L287.6,276.85 L288.1,277.28 L288.6,277.72 L289.1,278.18 L289.6,278.65 L290.1,279.15 L290.6,279.65 L291.1,280.18 L291.6,280.72 L292.1,281.28 L292.6,281.86 L293.1,282.47 L293.6,283.09 L294.1,283.73 L294.6,284.4 L295.1,285.09 L295.6,285.81 L296.1,286.55 L296.6,287.31 L297.1,288.1 L297.6,288.92 L298.1,289.77 L298.6,290.65 L299.1,291.56 L299.6,292.5 L300.1,293.47 L300.6,294.48 L301.1,295.52 L301.6,296.6 L302.1,297.71 L302.6,298.87 L303.1,300.07 L303.6,301.3 L304.1,302.58 L304.6,303.91 L305.1,305.28 L305.6,306.7 L306.1,308.17 L306.6,309.69 L307.1,311.27 L307.6,312.9 L308.1,314.58 L308.6,316.33 L309.1,318.13 L309.6,320 L310.1,321.94 L310.6,323.94 L311.1,326.01 L311.6,328.16 L312.1,330.38 L312.6,332.68 L313.1,335.05 L313.6,337.52 L314.1,340.06 L314.6,342.7 L315.1,345.43 L315.6,348.26 L316.1,351.18 L316.6,354.21 L317.1,357.34 L317.6,360.59 L318.1,363.94 L318.6,367.42 L319.1,371.02 L319.6,374.74"/>
<path d="M139.6,295.26 L140.1,295.26 L140.6,295.27 L141.1,295.27 L141.6,295.27 L142.1,295.27 L142.6,295.27 L143.1,295.27 L143.6,295.28 L144.1,295.28 L144.6,295.28 L145.1,295.28 L145.6,295.28 L146.1,295.29 L146.6,295.29 L147.1,295.29 L147.6,295.29 L148.1,295.29 L148.6,295.3 L149.1,295.3 L149.6,295.3 L150.1,295.3 L150.6,295.31 L151.1,295.31 L151.6,295.31 L152.1,295.31 L152.6,295.32 L153.1,295.32 L153.6,295.32 L154.1,295.33 L154.6,295.33 L155.1,295.33 L155.6,295.33 L156.1,295.34 L156.6,295.34 L157.1,295.35 L157.6,295.35 L158.1,295.35 L158.6,295.36 L159.1,295.36 L159.6,295.36 L160.1,295.37 L160.6,295.37 L161.1,295.38 L161.6,295.38 L162.1,295.39 L162.6,295.39 L163.1,295.4 L163.6,295.4 L164.1,295.4 L164.6,295.41 L165.1,295.42 L165.6,295.42 L166.1,295.43 L166.6,295.43 L167.1,295.44 L167.6,295.44 L168.1,295.45 L168.6,295.46 L169.1,295.46 L169.6,295.47 L170.1,295.48 L170.6,295.48 L171.1,295.49 L171.6,295.5 L172.1,295.51 L172.6,295.51 L173.1,295.52 L173.6,295.53 L174.1,295.54 L174.6,295.55 L175.1,295.56 L175.6,295.57 L176.1,295.57 L176.6,295.58 L177.1,295.59 L177.6,295.6 L178.1,295.61 L178.6,295.63 L179.1,295.64 L179.6,295.65 L180.1,295.66 L180.6,295.67 L181.1,295.68 L181.6,295.7 L182.1,295.71 L182.6,295.72 L183.1,295.74 L183.6,295.75 L184.1,295.77 L184.6,295.78 L185.1,295.8 L185.6,295.81 L186.1,295.83 L186.6,295.85 L187.1,295.86 L187.6,295.88 L188.1,295.9 L188.6,295.92 L189.1,295.94 L189.6,295.96 L190.1,295.98 L190.6,296 L191.1,296.02 L191.6,296.04 L192.1,296.07 L192.6,296.09 L193.1,296.12 L193.6,296.14 L194.1,296.17 L194.6,296.19 L195.1,296.22 L195.6,296.25 L196.1,296.28 L196.6,296.31 L197.1,296.34 L197.6,296.37 L198.1,296.41 L198.6,296.44 L199.1,296.48 L199.6,296.51 L200.1,296.55 L200.6,296.59 L201.1,296.63 L201.6,296.67 L202.1,296.71 L202.6,296.76 L203.1,296.8 L203.6,296.85 L204.1,296.9 L204.6,296.95 L205.1,297 L205.6,297.05 L206.1,297.1 L206.6,297.16 L207.1,297.22 L207.6,297.28 L208.1,297.34 L208.6,297.4 L209.1,297.47 L209.6,297.54 L210.1,297.61 L210.6,297.68 L211.1,297.75 L211.6,297.83 L212.1,297.91 L212.6,297.99 L213.1,298.08 L213.6,298.17 L214.1,298.26 L214.6,298.35 L215.1,298.45 L215.6,298.55 L216.1,298.65 L216.6,298.76 L217.1,298.87 L217.6,298.99 L218.1,299.11 L218.6,299.23 L219.1,299.35 L219.6,299.49 L220.1,299.62 L220.6,299.76 L221.1,299.91 L221.6,300.05 L222.1,300.21 L222.6,300.37 L223.1,300.53 L223.6,300.71 L224.1,300.88 L224.6,301.06 L225.1,301.25 L225.6,301.45 L226.1,301.65 L226.6,301.86 L227.1,302.08 L227.6,302.3 L228.1,302.53 L228.6,302.77 L229.1,303.02 L229.6,303.28 L230.1,303.54 L230.6,303.82 L231.1,304.1 L231.6,304.39 L232.1,304.7 L232.6,305.01 L233.1,305.34 L233.6,305.67 L234.1,306.02 L234.6,306.38 L235.1,306.76 L235.6,307.14 L236.1,307.54 L236.6,307.95 L237.1,308.38 L237.6,308.82 L238.1,309.28 L238.6,309.75 L239.1,310.25 L239.6,310.75 L240.1,311.28 L240.6,311.82 L241.1,312.38 L241.6,312.96 L242.1,313.57 L242.6,314.19 L243.1,314.83 L243.6,315.5 L244.1,316.19 L244.6,316.91 L245.1,317.65 L245.6,318.41 L246.1,319.2 L246.6,320.02 L247.1,320.87 L247.6,321.75 L248.1,322.66 L248.6,323.6 L249.1,324.57 L249.6,325.58 L250.1,326.62 L250.6,327.7 L251.1,328.81 L251.6,329.97 L252.1,331.17 L252.6,332.4 L253.1,333.68 L253.6,335.01 L254.1,336.38 L254.6,337.8 L255.1,339.27 L255.6,340.79 L256.1,342.37 L256.6,344 L257.1,345.68 L257.6,347.43 L258.1,349.23 L258.6,351.1 L259.1,353.04 L259.6,355.04 L260.1,357.11 L260.6,359.26 L261.1,361.48 L261.6,363.78 L262.1,366.15 L262.6,368.62 L263.1,371.16 L263.6,373.8 L264.1,376.53"/>
</g>
<g fill="#ff0000">
<circle cx="428" cy="185.27" r="4.1"/>
<circle cx="385.7" cy="217.17" r="4.1"/>
<circle cx="334.9" cy="248.84" r="4.1"/>
<circle cx="287.9" cy="277.11" r="4.1"/>
<circle cx="237.1" cy="308.38" r="4.1"/>
</g>
<g fill="#0000ff">
<circle cx="428" cy="502.46" r="3.9"/>
<circle cx="385.7" cy="488.71" r="3.9"/>
<circle cx="334.9" cy="463.69" r="3.9"/>
<circle cx="287.9" cy="439.32" r="3.9"/>
<circle cx="237.1" cy="415.87" r="3.9"/>
</g>
<g font-family="Liberation Serif, serif" fill="#000" stroke="#000" stroke-width="0.3" style="opacity:0.999">
<text transform="translate(90.562,222.7) scale(1.138,1)" font-size="20.8" stroke-width="0.45">−</text>
<text transform="translate(105.6,222.7) scale(1.13,1)" font-size="20.8">15</text>
<text transform="translate(90.562,282.7) scale(1.138,1)" font-size="20.8" stroke-width="0.45">−</text>
<text transform="translate(105.6,282.7) scale(1.13,1)" font-size="20.8">20</text>
<text transform="translate(90.562,342.7) scale(1.138,1)" font-size="20.8" stroke-width="0.45">−</text>
<text transform="translate(105.6,342.7) scale(1.13,1)" font-size="20.8">25</text>
<text transform="translate(90.562,366.4) scale(1.138,1)" font-size="20.8" stroke-width="0.45">−</text>
<text transform="translate(105.6,366.4) scale(1.13,1)" font-size="20.8">18</text>
<text transform="translate(90.562,420.95) scale(1.138,1)" font-size="20.8" stroke-width="0.45">−</text>
<text transform="translate(105.6,420.95) scale(1.13,1)" font-size="20.8">20</text>
<text transform="translate(90.562,475.5) scale(1.138,1)" font-size="20.8" stroke-width="0.45">−</text>
<text transform="translate(106.024,475.5) scale(1.13,1)" font-size="20.8">22</text>
<text transform="translate(90.562,530.05) scale(1.138,1)" font-size="20.8" stroke-width="0.45">−</text>
<text transform="translate(105.035,530.05) scale(1.13,1)" font-size="20.8">24</text>
<text transform="translate(127.062,574.8) scale(1.138,1)" font-size="20.8" stroke-width="0.45">−</text>
<text transform="translate(141.688,574.8) scale(1.097,1)" font-size="20.8">4</text>
<text transform="translate(224.562,574.8) scale(1.138,1)" font-size="20.8" stroke-width="0.45">−</text>
<text transform="translate(238.359,574.8) scale(1.241,1)" font-size="20.8">3</text>
<text transform="translate(322.062,574.8) scale(1.138,1)" font-size="20.8" stroke-width="0.45">−</text>
<text transform="translate(335.982,574.8) scale(1.278,1)" font-size="20.8">2</text>
<text transform="translate(419.562,574.8) scale(1.138,1)" font-size="20.8" stroke-width="0.45">−</text>
<text transform="translate(434.038,574.8) scale(0.993,1)" font-size="20.8">1</text>
<text transform="translate(246.468,605) scale(0.976,1)" font-size="24">Log</text>
<text transform="translate(295.744,605) scale(0.957,1)" font-size="26.5" font-style="italic">ψ</text>
<text transform="translate(324.737,605.2) scale(0.882,1)" font-size="27.5">[</text>
<text transform="translate(335.338,605) scale(1.3,1)" font-size="24">r</text>
<text transform="translate(346.978,605) scale(1.168,1)" font-size="24">a</text>
<text transform="translate(360.359,605) scale(1.076,1)" font-size="24">d</text>
<text transform="translate(376.551,605.2) scale(0.849,1)" font-size="27.5">]</text>
<text transform="translate(72.3,522.644) rotate(-90) scale(0.992,1)" font-size="24">Log</text>
<text transform="translate(72.3,471.163) rotate(-90) scale(1.116,1)" font-size="24">j</text>
<text transform="translate(72.3,464.133) rotate(-90) scale(1.007,1)" font-size="26.3">(</text>
<text transform="translate(72.3,453.599) rotate(-90) scale(1.063,1)" font-size="24" font-style="italic">ν</text>
<text transform="translate(72.3,440.303) rotate(-90) scale(0.69,1)" font-size="24">,</text>
<text transform="translate(72.3,434.325) rotate(-90) scale(1.3,1)" font-size="24" font-style="italic">γ</text>
<text transform="translate(72.3,419.103) rotate(-90) scale(0.69,1)" font-size="24">,</text>
<text transform="translate(72.3,413.626) rotate(-90) scale(1.11,1)" font-size="24" font-style="italic">ψ</text>
<text transform="translate(72.3,396.446) rotate(-90) scale(1.081,1)" font-size="26.3">)</text>
<text transform="translate(75.3,356.39) rotate(-90) scale(0.944,1)" font-size="21.3">Log</text>
<text transform="translate(75.3,312.636) rotate(-90) scale(0.857,1)" font-size="21.3" font-style="italic">σ</text>
<text transform="translate(75.3,301.217) rotate(-90) scale(1.017,1)" font-size="23.4">(</text>
<text transform="translate(75.3,291.97) rotate(-90) scale(0.986,1)" font-size="21.3" font-style="italic">ν</text>
<text transform="translate(75.3,281.254) rotate(-90) scale(0.738,1)" font-size="21.3">,</text>
<text transform="translate(75.3,275.954) rotate(-90) scale(1.212,1)" font-size="21.3" font-style="italic">γ</text>
<text transform="translate(75.3,262.931) rotate(-90) scale(0.708,1)" font-size="21.3">,</text>
<text transform="translate(75.3,258.206) rotate(-90) scale(1.045,1)" font-size="21.3" font-style="italic">ψ</text>
<text transform="translate(75.3,243.075) rotate(-90) scale(1.033,1)" font-size="23.4">)</text>
<text transform="translate(75.3,224.867) rotate(-90) scale(0.838,1)" font-size="23.4">[</text>
<text transform="translate(75.3,218.833) rotate(-90) scale(1.067,1)" font-size="21.3">c</text>
<text transform="translate(75.3,208.219) rotate(-90) scale(1.238,1)" font-size="21.3">m</text>
<text transform="translate(68.9,185.854) rotate(-90) scale(1.108,1)" font-size="12.2">2</text>
<text transform="translate(75.3,177.634) rotate(-90) scale(0.839,1)" font-size="23.4">]</text>
<text transform="translate(373.891,393.6) scale(0.982,1)" font-size="20.8" font-style="italic">ρ</text>
<text transform="translate(386.441,394) scale(1.159,1)" font-size="20.8">=</text>
<text transform="translate(401.559,393.6) scale(1.142,1)" font-size="20.8">10</text>
<text transform="translate(424.533,387) scale(1.244,1)" font-size="10.4" font-weight="700">6</text>
<text transform="translate(441.532,393.6) scale(1.157,1)" font-size="20.8">cm</text>
<text transform="translate(374.328,414.5) scale(1.089,1)" font-size="20.8" font-style="italic">ν</text>
<text transform="translate(386.121,415.4) scale(1.179,1)" font-size="20.8">=</text>
<text transform="translate(401.936,414.5) scale(1.056,1)" font-size="20.8" font-style="italic">ν</text>
<text transform="translate(412.83,419.8) scale(1.254,1)" font-size="12" font-weight="700">c</text>
<text transform="translate(248.41,200.9) scale(1.032,1)" font-size="16.4" font-family="Liberation Sans, sans-serif" fill="#0000ff" stroke="#0000ff" stroke-width="0.3">10</text>
<text transform="translate(227.39,232.2) scale(1.135,1)" font-size="16.4" font-family="Liberation Sans, sans-serif" fill="#0000ff" stroke="#0000ff" stroke-width="0.3">30</text>
<text transform="translate(209.237,262.8) scale(1.09,1)" font-size="16.4" font-family="Liberation Sans, sans-serif" fill="#0000ff" stroke="#0000ff" stroke-width="0.3">100</text>
<text transform="translate(188.911,292.9) scale(1.102,1)" font-size="16.4" font-family="Liberation Sans, sans-serif" fill="#0000ff" stroke="#0000ff" stroke-width="0.3">300</text>
<text transform="translate(149.216,324.6) scale(1.291,1)" font-size="18" font-style="italic" fill="#0000ff" stroke="#0000ff" stroke-width="0.3">γ</text>
<text transform="translate(161.242,324.9) scale(1.212,1)" font-size="16.4" font-weight="700" font-family="Liberation Sans, sans-serif" fill="#0000ff" stroke="#0000ff" stroke-width="0.3">=</text>
<text transform="translate(174.503,324.9) scale(1.118,1)" font-size="16.4" font-family="Liberation Sans, sans-serif" fill="#0000ff" stroke="#0000ff" stroke-width="0.3">1000</text>
<text transform="translate(228.696,384.8) scale(1.123,1)" font-size="16.4" font-family="Liberation Sans, sans-serif" fill="#0000ff" stroke="#0000ff" stroke-width="0.3">1000</text>
<text transform="translate(266.694,404) scale(1.129,1)" font-size="16.4" font-family="Liberation Sans, sans-serif" fill="#0000ff" stroke="#0000ff" stroke-width="0.3">300</text>
<text transform="translate(306.542,423.2) scale(1.086,1)" font-size="16.4" font-family="Liberation Sans, sans-serif" fill="#0000ff" stroke="#0000ff" stroke-width="0.3">100</text>
<text transform="translate(354.387,441.9) scale(1.141,1)" font-size="16.4" font-family="Liberation Sans, sans-serif" fill="#0000ff" stroke="#0000ff" stroke-width="0.3">30</text>
<text transform="translate(402.681,466.6) scale(1.3,1)" font-size="18" font-style="italic" fill="#0000ff" stroke="#0000ff" stroke-width="0.3">γ</text>
<text transform="translate(414.458,467) scale(1.188,1)" font-size="16.4" font-weight="700" font-family="Liberation Sans, sans-serif" fill="#0000ff" stroke="#0000ff" stroke-width="0.3">=</text>
<text transform="translate(428.041,467) scale(1.087,1)" font-size="16.4" font-family="Liberation Sans, sans-serif" fill="#0000ff" stroke="#0000ff" stroke-width="0.3">10</text>
</g>
</svg>
</body></html>
